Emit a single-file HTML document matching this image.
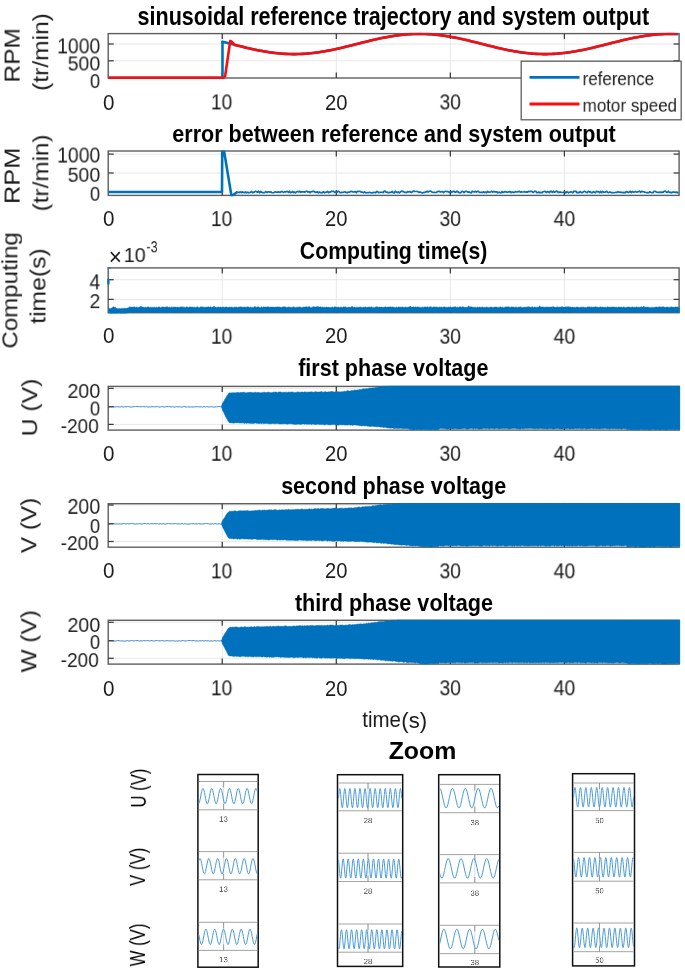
<!DOCTYPE html>
<html><head><meta charset="utf-8"><title>figure</title>
<style>
html,body{margin:0;padding:0;background:#fff;}
body{width:685px;height:971px;position:relative;overflow:hidden;font-family:"Liberation Sans",sans-serif;}
svg{position:absolute;left:0;top:0;}
.t{will-change:transform;position:absolute;left:0;top:0;white-space:pre;line-height:1;font-size:20px;transform-origin:0 0;}
</style></head><body>
<svg width="685" height="971" viewBox="0 0 685 971">
<line x1="222.25" y1="33.60" x2="222.25" y2="78.00" stroke="#e8e8e8" stroke-width="1" />
<line x1="336.30" y1="33.60" x2="336.30" y2="78.00" stroke="#e8e8e8" stroke-width="1" />
<line x1="450.35" y1="33.60" x2="450.35" y2="78.00" stroke="#e8e8e8" stroke-width="1" />
<line x1="564.40" y1="33.60" x2="564.40" y2="78.00" stroke="#e8e8e8" stroke-width="1" />
<line x1="108.20" y1="44.00" x2="679.10" y2="44.00" stroke="#e8e8e8" stroke-width="1" />
<line x1="108.20" y1="60.80" x2="679.10" y2="60.80" stroke="#e8e8e8" stroke-width="1" />
<clipPath id="c1"><rect x="107.2" y="32.800000000000004" width="572.9" height="46.8"/></clipPath>
<rect x="108.20" y="33.60" width="570.90" height="44.40" fill="none" stroke="#5e5e5e" stroke-width="1.4"/>
<line x1="222.25" y1="78.00" x2="222.25" y2="72.50" stroke="#3a3a3a" stroke-width="1.25" />
<line x1="222.25" y1="33.60" x2="222.25" y2="39.10" stroke="#3a3a3a" stroke-width="1.25" />
<line x1="336.30" y1="78.00" x2="336.30" y2="72.50" stroke="#3a3a3a" stroke-width="1.25" />
<line x1="336.30" y1="33.60" x2="336.30" y2="39.10" stroke="#3a3a3a" stroke-width="1.25" />
<line x1="450.35" y1="78.00" x2="450.35" y2="72.50" stroke="#3a3a3a" stroke-width="1.25" />
<line x1="450.35" y1="33.60" x2="450.35" y2="39.10" stroke="#3a3a3a" stroke-width="1.25" />
<line x1="564.40" y1="78.00" x2="564.40" y2="72.50" stroke="#3a3a3a" stroke-width="1.25" />
<line x1="564.40" y1="33.60" x2="564.40" y2="39.10" stroke="#3a3a3a" stroke-width="1.25" />
<line x1="108.20" y1="44.00" x2="113.70" y2="44.00" stroke="#3a3a3a" stroke-width="1.25" />
<line x1="679.10" y1="44.00" x2="673.60" y2="44.00" stroke="#3a3a3a" stroke-width="1.25" />
<line x1="108.20" y1="60.80" x2="113.70" y2="60.80" stroke="#3a3a3a" stroke-width="1.25" />
<line x1="679.10" y1="60.80" x2="673.60" y2="60.80" stroke="#3a3a3a" stroke-width="1.25" />
<path d="M108.20 77.70 L222.48 77.70 L222.48 41.71 L222.25 41.71 L224.53 42.28 L226.81 42.85 L229.09 43.42 L231.37 44.00 L233.65 44.58 L235.94 45.15 L238.22 45.72 L240.50 46.29 L242.78 46.85 L245.06 47.40 L247.34 47.94 L249.62 48.46 L251.90 48.97 L254.18 49.47 L256.46 49.94 L258.75 50.40 L261.03 50.84 L263.31 51.25 L265.59 51.64 L267.87 52.01 L270.15 52.35 L272.43 52.66 L274.71 52.94 L276.99 53.20 L279.27 53.42 L281.56 53.62 L283.84 53.78 L286.12 53.91 L288.40 54.01 L290.68 54.07 L292.96 54.11 L295.24 54.11 L297.52 54.07 L299.80 54.01 L302.08 53.91 L304.37 53.78 L306.65 53.62 L308.93 53.42 L311.21 53.20 L313.49 52.94 L315.77 52.66 L318.05 52.35 L320.33 52.01 L322.61 51.64 L324.89 51.25 L327.18 50.84 L329.46 50.40 L331.74 49.94 L334.02 49.47 L336.30 48.97 L338.58 48.46 L340.86 47.94 L343.14 47.40 L345.42 46.85 L347.70 46.29 L349.99 45.72 L352.27 45.15 L354.55 44.58 L356.83 44.00 L359.11 43.42 L361.39 42.85 L363.67 42.28 L365.95 41.71 L368.23 41.15 L370.51 40.60 L372.80 40.06 L375.08 39.54 L377.36 39.03 L379.64 38.53 L381.92 38.06 L384.20 37.60 L386.48 37.16 L388.76 36.75 L391.04 36.36 L393.32 35.99 L395.61 35.65 L397.89 35.34 L400.17 35.06 L402.45 34.80 L404.73 34.58 L407.01 34.38 L409.29 34.22 L411.57 34.09 L413.85 33.99 L416.13 33.93 L418.42 33.89 L420.70 33.89 L422.98 33.93 L425.26 33.99 L427.54 34.09 L429.82 34.22 L432.10 34.38 L434.38 34.58 L436.66 34.80 L438.94 35.06 L441.23 35.34 L443.51 35.65 L445.79 35.99 L448.07 36.36 L450.35 36.75 L452.63 37.16 L454.91 37.60 L457.19 38.06 L459.47 38.53 L461.75 39.03 L464.04 39.54 L466.32 40.06 L468.60 40.60 L470.88 41.15 L473.16 41.71 L475.44 42.28 L477.72 42.85 L480.00 43.42 L482.28 44.00 L484.56 44.58 L486.85 45.15 L489.13 45.72 L491.41 46.29 L493.69 46.85 L495.97 47.40 L498.25 47.94 L500.53 48.46 L502.81 48.97 L505.09 49.47 L507.37 49.94 L509.66 50.40 L511.94 50.84 L514.22 51.25 L516.50 51.64 L518.78 52.01 L521.06 52.35 L523.34 52.66 L525.62 52.94 L527.90 53.20 L530.18 53.42 L532.47 53.62 L534.75 53.78 L537.03 53.91 L539.31 54.01 L541.59 54.07 L543.87 54.11 L546.15 54.11 L548.43 54.07 L550.71 54.01 L553.00 53.91 L555.28 53.78 L557.56 53.62 L559.84 53.42 L562.12 53.20 L564.40 52.94 L566.68 52.66 L568.96 52.35 L571.24 52.01 L573.52 51.64 L575.81 51.25 L578.09 50.84 L580.37 50.40 L582.65 49.94 L584.93 49.47 L587.21 48.97 L589.49 48.46 L591.77 47.94 L594.05 47.40 L596.33 46.85 L598.62 46.29 L600.90 45.72 L603.18 45.15 L605.46 44.58 L607.74 44.00 L610.02 43.42 L612.30 42.85 L614.58 42.28 L616.86 41.71 L619.14 41.15 L621.43 40.60 L623.71 40.06 L625.99 39.54 L628.27 39.03 L630.55 38.53 L632.83 38.06 L635.11 37.60 L637.39 37.16 L639.67 36.75 L641.95 36.36 L644.24 35.99 L646.52 35.65 L648.80 35.34 L651.08 35.06 L653.36 34.80 L655.64 34.58 L657.92 34.38 L660.20 34.22 L662.48 34.09 L664.76 33.99 L667.05 33.93 L669.33 33.89 L671.61 33.89 L673.89 33.93 L676.17 33.99 L678.45 34.09" stroke="#0072bd" stroke-width="2.6" fill="none" stroke-linejoin="round" clip-path="url(#c1)"/>
<path d="M108.20 77.70 L223.39 77.70 L225.10 76.35 L230.23 40.97 L231.94 41.98 L234.80 44.87 L237.08 45.44 L239.36 46.01 L241.64 46.57 L243.92 47.12 L246.20 47.67 L248.48 48.20 L250.76 48.72 L253.04 49.22 L255.32 49.71 L257.61 50.17 L259.89 50.62 L262.17 51.05 L264.45 51.45 L266.73 51.83 L269.01 52.18 L271.29 52.51 L273.57 52.80 L275.85 53.07 L278.13 53.31 L280.42 53.52 L282.70 53.70 L284.98 53.85 L287.26 53.96 L289.54 54.04 L291.82 54.09 L294.10 54.11 L296.38 54.09 L298.66 54.04 L300.94 53.96 L303.23 53.85 L305.51 53.70 L307.79 53.52 L310.07 53.31 L312.35 53.07 L314.63 52.80 L316.91 52.51 L319.19 52.18 L321.47 51.83 L323.75 51.45 L326.04 51.05 L328.32 50.62 L330.60 50.17 L332.88 49.71 L335.16 49.22 L337.44 48.72 L339.72 48.20 L342.00 47.67 L344.28 47.12 L346.56 46.57 L348.85 46.01 L351.13 45.44 L353.41 44.87 L355.69 44.29 L357.97 43.71 L360.25 43.13 L362.53 42.56 L364.81 41.99 L367.09 41.43 L369.37 40.88 L371.66 40.33 L373.94 39.80 L376.22 39.28 L378.50 38.78 L380.78 38.29 L383.06 37.83 L385.34 37.38 L387.62 36.95 L389.90 36.55 L392.18 36.17 L394.47 35.82 L396.75 35.49 L399.03 35.20 L401.31 34.93 L403.59 34.69 L405.87 34.48 L408.15 34.30 L410.43 34.15 L412.71 34.04 L414.99 33.96 L417.28 33.91 L419.56 33.89 L421.84 33.91 L424.12 33.96 L426.40 34.04 L428.68 34.15 L430.96 34.30 L433.24 34.48 L435.52 34.69 L437.80 34.93 L440.09 35.20 L442.37 35.49 L444.65 35.82 L446.93 36.17 L449.21 36.55 L451.49 36.95 L453.77 37.38 L456.05 37.83 L458.33 38.29 L460.61 38.78 L462.90 39.28 L465.18 39.80 L467.46 40.33 L469.74 40.88 L472.02 41.43 L474.30 41.99 L476.58 42.56 L478.86 43.13 L481.14 43.71 L483.42 44.29 L485.71 44.87 L487.99 45.44 L490.27 46.01 L492.55 46.57 L494.83 47.12 L497.11 47.67 L499.39 48.20 L501.67 48.72 L503.95 49.22 L506.23 49.71 L508.52 50.17 L510.80 50.62 L513.08 51.05 L515.36 51.45 L517.64 51.83 L519.92 52.18 L522.20 52.51 L524.48 52.80 L526.76 53.07 L529.04 53.31 L531.33 53.52 L533.61 53.70 L535.89 53.85 L538.17 53.96 L540.45 54.04 L542.73 54.09 L545.01 54.11 L547.29 54.09 L549.57 54.04 L551.85 53.96 L554.14 53.85 L556.42 53.70 L558.70 53.52 L560.98 53.31 L563.26 53.07 L565.54 52.80 L567.82 52.51 L570.10 52.18 L572.38 51.83 L574.66 51.45 L576.95 51.05 L579.23 50.62 L581.51 50.17 L583.79 49.71 L586.07 49.22 L588.35 48.72 L590.63 48.20 L592.91 47.67 L595.19 47.12 L597.47 46.57 L599.76 46.01 L602.04 45.44 L604.32 44.87 L606.60 44.29 L608.88 43.71 L611.16 43.13 L613.44 42.56 L615.72 41.99 L618.00 41.43 L620.28 40.88 L622.57 40.33 L624.85 39.80 L627.13 39.28 L629.41 38.78 L631.69 38.29 L633.97 37.83 L636.25 37.38 L638.53 36.95 L640.81 36.55 L643.09 36.17 L645.38 35.82 L647.66 35.49 L649.94 35.20 L652.22 34.93 L654.50 34.69 L656.78 34.48 L659.06 34.30 L661.34 34.15 L663.62 34.04 L665.90 33.96 L668.19 33.91 L670.47 33.89 L672.75 33.91 L675.03 33.96 L677.31 34.04" stroke="#fc0c0c" stroke-width="2.6" fill="none" stroke-linejoin="round" clip-path="url(#c1)"/>
<line x1="222.25" y1="151.00" x2="222.25" y2="195.40" stroke="#e8e8e8" stroke-width="1" />
<line x1="336.30" y1="151.00" x2="336.30" y2="195.40" stroke="#e8e8e8" stroke-width="1" />
<line x1="450.35" y1="151.00" x2="450.35" y2="195.40" stroke="#e8e8e8" stroke-width="1" />
<line x1="564.40" y1="151.00" x2="564.40" y2="195.40" stroke="#e8e8e8" stroke-width="1" />
<line x1="108.20" y1="154.10" x2="679.10" y2="154.10" stroke="#e8e8e8" stroke-width="1" />
<line x1="108.20" y1="173.00" x2="679.10" y2="173.00" stroke="#e8e8e8" stroke-width="1" />
<clipPath id="c2"><rect x="107.2" y="150.4" width="572.9" height="46.00000000000001"/></clipPath>
<rect x="108.20" y="151.00" width="570.90" height="44.40" fill="none" stroke="#5e5e5e" stroke-width="1.4"/>
<line x1="222.25" y1="195.40" x2="222.25" y2="189.90" stroke="#3a3a3a" stroke-width="1.25" />
<line x1="222.25" y1="151.00" x2="222.25" y2="156.50" stroke="#3a3a3a" stroke-width="1.25" />
<line x1="336.30" y1="195.40" x2="336.30" y2="189.90" stroke="#3a3a3a" stroke-width="1.25" />
<line x1="336.30" y1="151.00" x2="336.30" y2="156.50" stroke="#3a3a3a" stroke-width="1.25" />
<line x1="450.35" y1="195.40" x2="450.35" y2="189.90" stroke="#3a3a3a" stroke-width="1.25" />
<line x1="450.35" y1="151.00" x2="450.35" y2="156.50" stroke="#3a3a3a" stroke-width="1.25" />
<line x1="564.40" y1="195.40" x2="564.40" y2="189.90" stroke="#3a3a3a" stroke-width="1.25" />
<line x1="564.40" y1="151.00" x2="564.40" y2="156.50" stroke="#3a3a3a" stroke-width="1.25" />
<line x1="108.20" y1="154.10" x2="113.70" y2="154.10" stroke="#3a3a3a" stroke-width="1.25" />
<line x1="679.10" y1="154.10" x2="673.60" y2="154.10" stroke="#3a3a3a" stroke-width="1.25" />
<line x1="108.20" y1="173.00" x2="113.70" y2="173.00" stroke="#3a3a3a" stroke-width="1.25" />
<line x1="679.10" y1="173.00" x2="673.60" y2="173.00" stroke="#3a3a3a" stroke-width="1.25" />
<path d="M108.20 192.00 L222.02 192.00 L222.25 148.41 L223.62 148.41 L231.37 195.41 L233.08 195.03 L237.65 191.81" stroke="#0072bd" stroke-width="2.6" fill="none" stroke-linejoin="round" clip-path="url(#c2)"/>
<path d="M237.08 192.00 L238.22 192.29 L239.24 192.58 L240.27 191.75 L241.30 192.71 L242.32 191.94 L243.35 192.22 L244.38 192.74 L245.40 191.99 L246.43 192.77 L247.46 192.11 L248.48 192.72 L249.51 192.68 L250.53 192.13 L251.56 191.45 L252.59 192.63 L253.61 192.46 L254.64 191.79 L255.67 191.25 L256.69 191.87 L257.72 192.17 L258.75 191.21 L259.77 192.76 L260.80 191.40 L261.83 192.35 L262.85 192.59 L263.88 192.64 L264.90 192.32 L265.93 191.47 L266.96 192.53 L267.98 191.86 L269.01 191.77 L270.04 192.21 L271.06 191.92 L272.09 192.73 L273.12 192.73 L274.14 192.49 L275.17 191.70 L276.20 192.12 L277.22 192.31 L278.25 191.86 L279.27 192.08 L280.30 192.33 L281.33 191.51 L282.35 191.67 L283.38 192.43 L284.41 191.88 L285.43 191.96 L286.46 191.37 L287.49 191.62 L288.51 192.35 L289.54 191.20 L290.57 192.64 L291.59 192.14 L292.62 191.57 L293.65 192.58 L294.67 192.02 L295.70 192.77 L296.72 191.72 L297.75 191.56 L298.78 191.88 L299.80 191.37 L300.83 192.31 L301.86 191.67 L302.88 191.84 L303.91 191.87 L304.94 192.07 L305.96 191.43 L306.99 191.26 L308.02 192.04 L309.04 191.73 L310.07 192.73 L311.09 191.66 L312.12 191.75 L313.15 191.18 L314.17 191.46 L315.20 192.36 L316.23 192.19 L317.25 191.72 L318.28 192.80 L319.31 192.06 L320.33 192.55 L321.36 192.64 L322.39 192.74 L323.41 191.55 L324.44 192.62 L325.47 192.42 L326.49 192.18 L327.52 191.38 L328.54 192.70 L329.57 192.08 L330.60 191.92 L331.62 191.36 L332.65 191.47 L333.68 191.39 L334.70 192.37 L335.73 192.14 L336.76 192.24 L337.78 191.36 L338.81 191.24 L339.84 192.58 L340.86 192.54 L341.89 192.45 L342.91 192.44 L343.94 192.03 L344.97 191.85 L345.99 192.40 L347.02 192.83 L348.05 192.14 L349.07 192.22 L350.10 191.89 L351.13 191.24 L352.15 191.68 L353.18 191.97 L354.21 191.80 L355.23 191.71 L356.26 192.74 L357.29 191.33 L358.31 191.53 L359.34 191.38 L360.36 191.50 L361.39 192.18 L362.42 192.17 L363.44 192.66 L364.47 191.78 L365.50 192.73 L366.52 192.72 L367.55 192.49 L368.58 192.56 L369.60 192.27 L370.63 192.75 L371.66 192.83 L372.68 192.58 L373.71 192.66 L374.73 192.23 L375.76 192.79 L376.79 191.38 L377.81 191.81 L378.84 192.59 L379.87 192.41 L380.89 192.25 L381.92 192.23 L382.95 192.63 L383.97 191.42 L385.00 191.18 L386.03 192.06 L387.05 192.03 L388.08 192.69 L389.11 192.66 L390.13 192.26 L391.16 192.39 L392.18 191.45 L393.21 192.56 L394.24 192.80 L395.26 191.25 L396.29 191.95 L397.32 192.59 L398.34 191.93 L399.37 192.79 L400.40 191.95 L401.42 191.20 L402.45 191.39 L403.48 191.67 L404.50 192.40 L405.53 192.22 L406.55 192.56 L407.58 191.55 L408.61 191.95 L409.63 191.53 L410.66 192.28 L411.69 192.46 L412.71 191.48 L413.74 191.19 L414.77 191.41 L415.79 191.49 L416.82 191.47 L417.85 191.60 L418.87 192.46 L419.90 191.97 L420.93 192.24 L421.95 192.79 L422.98 192.79 L424.00 192.37 L425.03 192.40 L426.06 191.68 L427.08 191.24 L428.11 192.09 L429.14 191.27 L430.16 191.19 L431.19 191.24 L432.22 192.23 L433.24 192.47 L434.27 192.46 L435.30 192.51 L436.32 192.49 L437.35 191.79 L438.37 191.33 L439.40 191.43 L440.43 192.03 L441.45 191.74 L442.48 191.50 L443.51 192.69 L444.53 191.73 L445.56 191.32 L446.59 191.53 L447.61 191.58 L448.64 192.04 L449.67 192.54 L450.69 191.52 L451.72 192.28 L452.75 191.50 L453.77 191.21 L454.80 192.17 L455.82 192.16 L456.85 191.25 L457.88 191.63 L458.90 192.55 L459.93 192.62 L460.96 192.58 L461.98 191.32 L463.01 191.49 L464.04 192.59 L465.06 191.46 L466.09 191.20 L467.12 191.74 L468.14 192.25 L469.17 191.92 L470.19 192.62 L471.22 192.81 L472.25 191.21 L473.27 191.75 L474.30 191.96 L475.33 191.28 L476.35 192.11 L477.38 191.38 L478.41 191.46 L479.43 192.48 L480.46 192.41 L481.49 192.35 L482.51 192.43 L483.54 191.86 L484.57 192.40 L485.59 192.14 L486.62 192.62 L487.64 191.32 L488.67 192.24 L489.70 192.07 L490.72 191.86 L491.75 191.33 L492.78 192.13 L493.80 191.30 L494.83 192.00 L495.86 191.95 L496.88 191.96 L497.91 192.80 L498.94 192.10 L499.96 192.53 L500.99 192.83 L502.01 191.50 L503.04 192.55 L504.07 192.04 L505.09 191.62 L506.12 191.91 L507.15 192.29 L508.17 191.97 L509.20 191.91 L510.23 191.53 L511.25 192.66 L512.28 191.90 L513.31 192.42 L514.33 192.37 L515.36 191.55 L516.38 191.99 L517.41 191.90 L518.44 191.57 L519.46 191.31 L520.49 192.09 L521.52 191.81 L522.54 191.99 L523.57 191.98 L524.60 191.68 L525.62 192.08 L526.65 191.94 L527.68 192.04 L528.70 191.26 L529.73 191.67 L530.76 191.37 L531.78 191.26 L532.81 192.40 L533.83 191.90 L534.86 191.26 L535.89 191.43 L536.91 192.61 L537.94 192.63 L538.97 192.10 L539.99 192.71 L541.02 192.43 L542.05 192.71 L543.07 191.72 L544.10 191.53 L545.13 191.34 L546.15 192.58 L547.18 191.64 L548.20 191.73 L549.23 192.60 L550.26 191.36 L551.28 191.22 L552.31 192.47 L553.34 191.25 L554.36 192.17 L555.39 192.02 L556.42 191.18 L557.44 191.45 L558.47 192.56 L559.50 192.11 L560.52 191.97 L561.55 192.27 L562.58 192.51 L563.60 192.30 L564.63 191.63 L565.65 192.80 L566.68 191.91 L567.71 192.10 L568.73 192.80 L569.76 192.28 L570.79 191.79 L571.81 191.98 L572.84 192.73 L573.87 191.19 L574.89 191.52 L575.92 191.21 L576.95 192.66 L577.97 192.39 L579.00 192.77 L580.02 191.53 L581.05 192.38 L582.08 192.62 L583.10 192.13 L584.13 191.31 L585.16 191.47 L586.18 192.40 L587.21 192.58 L588.24 191.30 L589.26 191.88 L590.29 191.67 L591.32 192.68 L592.34 192.74 L593.37 191.69 L594.40 192.12 L595.42 192.71 L596.45 191.27 L597.47 191.78 L598.50 191.50 L599.53 192.69 L600.55 191.41 L601.58 192.72 L602.61 191.40 L603.63 192.08 L604.66 192.27 L605.69 191.91 L606.71 191.29 L607.74 192.39 L608.77 192.62 L609.79 191.96 L610.82 192.44 L611.84 192.65 L612.87 192.56 L613.90 192.75 L614.92 192.50 L615.95 192.31 L616.98 192.33 L618.00 191.57 L619.03 192.35 L620.06 192.00 L621.08 192.54 L622.11 192.26 L623.14 192.80 L624.16 192.42 L625.19 192.81 L626.22 191.61 L627.24 191.91 L628.27 192.52 L629.29 192.04 L630.32 191.28 L631.35 192.66 L632.37 191.47 L633.40 192.11 L634.43 192.01 L635.45 191.44 L636.48 192.18 L637.51 191.99 L638.53 191.69 L639.56 191.20 L640.59 192.26 L641.61 191.45 L642.64 191.66 L643.66 191.77 L644.69 192.16 L645.72 192.25 L646.74 192.74 L647.77 192.62 L648.80 192.72 L649.82 191.60 L650.85 192.41 L651.88 192.56 L652.90 192.69 L653.93 191.43 L654.96 191.38 L655.98 191.72 L657.01 192.36 L658.04 192.43 L659.06 192.35 L660.09 192.07 L661.11 192.57 L662.14 192.09 L663.17 192.39 L664.19 191.23 L665.22 191.21 L666.25 191.92 L667.27 192.43 L668.30 191.22 L669.33 192.32 L670.35 192.24 L671.38 192.83 L672.41 192.20 L673.43 192.04 L674.46 192.00 L675.48 192.50 L676.51 191.99 L677.54 192.83 L678.56 192.39" stroke="#0072bd" stroke-width="1.7" fill="none" stroke-linejoin="round" clip-path="url(#c2)"/>
<line x1="222.25" y1="267.90" x2="222.25" y2="312.70" stroke="#e8e8e8" stroke-width="1" />
<line x1="336.30" y1="267.90" x2="336.30" y2="312.70" stroke="#e8e8e8" stroke-width="1" />
<line x1="450.35" y1="267.90" x2="450.35" y2="312.70" stroke="#e8e8e8" stroke-width="1" />
<line x1="564.40" y1="267.90" x2="564.40" y2="312.70" stroke="#e8e8e8" stroke-width="1" />
<line x1="108.20" y1="279.70" x2="679.10" y2="279.70" stroke="#e8e8e8" stroke-width="1" />
<line x1="108.20" y1="299.40" x2="679.10" y2="299.40" stroke="#e8e8e8" stroke-width="1" />
<rect x="108.20" y="267.90" width="570.90" height="44.80" fill="none" stroke="#5e5e5e" stroke-width="1.4"/>
<line x1="222.25" y1="312.70" x2="222.25" y2="307.20" stroke="#3a3a3a" stroke-width="1.25" />
<line x1="222.25" y1="267.90" x2="222.25" y2="273.40" stroke="#3a3a3a" stroke-width="1.25" />
<line x1="336.30" y1="312.70" x2="336.30" y2="307.20" stroke="#3a3a3a" stroke-width="1.25" />
<line x1="336.30" y1="267.90" x2="336.30" y2="273.40" stroke="#3a3a3a" stroke-width="1.25" />
<line x1="450.35" y1="312.70" x2="450.35" y2="307.20" stroke="#3a3a3a" stroke-width="1.25" />
<line x1="450.35" y1="267.90" x2="450.35" y2="273.40" stroke="#3a3a3a" stroke-width="1.25" />
<line x1="564.40" y1="312.70" x2="564.40" y2="307.20" stroke="#3a3a3a" stroke-width="1.25" />
<line x1="564.40" y1="267.90" x2="564.40" y2="273.40" stroke="#3a3a3a" stroke-width="1.25" />
<line x1="108.20" y1="279.70" x2="113.70" y2="279.70" stroke="#3a3a3a" stroke-width="1.25" />
<line x1="679.10" y1="279.70" x2="673.60" y2="279.70" stroke="#3a3a3a" stroke-width="1.25" />
<line x1="108.20" y1="299.40" x2="113.70" y2="299.40" stroke="#3a3a3a" stroke-width="1.25" />
<line x1="679.10" y1="299.40" x2="673.60" y2="299.40" stroke="#3a3a3a" stroke-width="1.25" />
<clipPath id="c3"><rect x="107.0" y="267.29999999999995" width="573.5" height="45.80000000000001"/></clipPath>
<path d="M108.20 308.21 L109.11 308.17 L110.02 308.56 L110.94 308.61 L111.85 307.72 L112.76 307.15 L113.67 306.68 L114.59 307.29 L115.50 307.35 L116.41 308.23 L117.32 308.56 L118.24 308.64 L119.15 308.24 L120.06 308.74 L120.97 308.59 L121.89 308.15 L122.80 308.50 L123.71 308.20 L124.62 308.20 L125.54 308.29 L126.45 308.30 L127.36 308.11 L128.27 307.76 L129.19 307.17 L130.10 306.71 L131.01 307.22 L131.92 306.95 L132.83 307.08 L133.75 306.89 L134.66 306.76 L135.57 307.43 L136.48 306.90 L137.40 307.16 L138.31 307.42 L139.22 307.11 L140.13 306.91 L141.05 306.07 L141.96 306.96 L142.87 306.97 L143.78 307.28 L144.70 307.40 L145.61 306.95 L146.52 307.45 L147.43 307.05 L148.35 306.82 L149.26 307.40 L150.17 307.11 L151.08 307.42 L152.00 307.19 L152.91 307.13 L153.82 307.26 L154.73 307.20 L155.64 307.40 L156.56 306.99 L157.47 307.43 L158.38 306.96 L159.29 306.87 L160.21 307.38 L161.12 307.38 L162.03 306.85 L162.94 306.99 L163.86 306.93 L164.77 307.27 L165.68 307.12 L166.59 306.79 L167.51 306.84 L168.42 307.35 L169.33 306.92 L170.24 307.42 L171.16 306.77 L172.07 307.38 L172.98 306.75 L173.89 307.33 L174.81 306.92 L175.72 307.12 L176.63 307.26 L177.54 307.07 L178.45 307.30 L179.37 307.20 L180.28 306.93 L181.19 306.83 L182.10 307.16 L183.02 306.59 L183.93 307.42 L184.84 307.08 L185.75 307.42 L186.67 306.77 L187.58 307.04 L188.49 307.40 L189.40 306.99 L190.32 306.89 L191.23 307.10 L192.14 306.97 L193.05 306.91 L193.97 307.42 L194.88 306.91 L195.79 307.41 L196.70 306.90 L197.62 306.79 L198.53 307.38 L199.44 307.45 L200.35 306.88 L201.26 306.77 L202.18 307.01 L203.09 306.75 L204.00 307.42 L204.91 306.90 L205.83 307.33 L206.74 307.08 L207.65 306.89 L208.56 306.77 L209.48 307.29 L210.39 306.79 L211.30 307.27 L212.21 306.94 L213.13 306.93 L214.04 306.09 L214.95 307.19 L215.86 306.91 L216.78 307.42 L217.69 307.05 L218.60 306.88 L219.51 307.33 L220.43 306.98 L221.34 307.30 L222.25 307.28 L223.16 306.77 L224.07 307.44 L224.99 306.94 L225.90 307.10 L226.81 306.91 L227.72 307.22 L228.64 307.22 L229.55 306.96 L230.46 307.27 L231.37 306.92 L232.29 307.15 L233.20 307.44 L234.11 307.32 L235.02 306.82 L235.94 307.34 L236.85 306.96 L237.76 307.43 L238.67 307.01 L239.59 306.93 L240.50 306.82 L241.41 306.90 L242.32 306.89 L243.24 307.21 L244.15 306.98 L245.06 306.97 L245.97 307.13 L246.88 307.03 L247.80 306.81 L248.71 307.04 L249.62 307.42 L250.53 307.00 L251.45 307.45 L252.36 307.26 L253.27 307.38 L254.18 307.03 L255.10 306.13 L256.01 307.39 L256.92 307.01 L257.83 306.95 L258.75 306.83 L259.66 307.43 L260.57 307.41 L261.48 306.79 L262.40 307.38 L263.31 306.86 L264.22 307.03 L265.13 306.88 L266.05 307.11 L266.96 306.92 L267.87 306.78 L268.78 306.78 L269.69 307.17 L270.61 306.96 L271.52 307.05 L272.43 307.06 L273.34 307.09 L274.26 307.30 L275.17 307.08 L276.08 307.05 L276.99 307.11 L277.91 306.81 L278.82 307.11 L279.73 307.01 L280.64 307.35 L281.56 307.32 L282.47 307.09 L283.38 306.87 L284.29 306.80 L285.21 306.86 L286.12 307.32 L287.03 307.39 L287.94 307.10 L288.86 306.88 L289.77 307.23 L290.68 307.30 L291.59 307.20 L292.50 307.14 L293.42 306.82 L294.33 307.03 L295.24 307.44 L296.15 307.29 L297.07 307.27 L297.98 306.93 L298.89 307.16 L299.80 306.75 L300.72 307.18 L301.63 307.38 L302.54 307.21 L303.45 307.00 L304.37 306.91 L305.28 306.89 L306.19 306.84 L307.10 306.85 L308.02 307.36 L308.93 306.15 L309.84 307.00 L310.75 307.41 L311.67 307.38 L312.58 307.03 L313.49 306.56 L314.40 306.85 L315.31 307.10 L316.23 306.87 L317.14 306.78 L318.05 306.34 L318.96 307.08 L319.88 306.91 L320.79 306.78 L321.70 307.24 L322.61 306.94 L323.53 307.30 L324.44 307.20 L325.35 307.37 L326.26 306.92 L327.18 307.27 L328.09 306.98 L329.00 307.19 L329.91 307.44 L330.83 307.24 L331.74 307.26 L332.65 306.90 L333.56 307.39 L334.48 306.82 L335.39 306.85 L336.30 307.23 L337.21 307.27 L338.12 307.00 L339.04 307.37 L339.95 307.39 L340.86 306.89 L341.77 307.34 L342.69 307.33 L343.60 306.82 L344.51 306.89 L345.42 306.76 L346.34 307.25 L347.25 307.42 L348.16 307.18 L349.07 307.06 L349.99 307.24 L350.90 307.35 L351.81 306.35 L352.72 306.74 L353.64 307.31 L354.55 306.99 L355.46 307.41 L356.37 307.24 L357.29 307.20 L358.20 307.24 L359.11 307.00 L360.02 307.37 L360.93 306.77 L361.85 307.38 L362.76 307.37 L363.67 307.12 L364.58 307.20 L365.50 306.86 L366.41 307.27 L367.32 307.29 L368.23 307.07 L369.15 306.88 L370.06 307.34 L370.97 306.92 L371.88 306.86 L372.80 307.43 L373.71 307.42 L374.62 307.44 L375.53 307.05 L376.45 306.82 L377.36 306.77 L378.27 307.24 L379.18 307.07 L380.10 307.03 L381.01 307.05 L381.92 307.04 L382.83 307.37 L383.74 307.35 L384.66 307.07 L385.57 306.82 L386.48 307.25 L387.39 307.05 L388.31 307.04 L389.22 306.88 L390.13 307.02 L391.04 306.78 L391.96 307.30 L392.87 306.82 L393.78 307.25 L394.69 307.33 L395.61 307.41 L396.52 307.02 L397.43 307.44 L398.34 306.94 L399.26 307.04 L400.17 307.00 L401.08 307.27 L401.99 306.90 L402.91 306.90 L403.82 307.32 L404.73 307.14 L405.64 307.00 L406.55 307.32 L407.47 307.13 L408.38 307.00 L409.29 307.01 L410.20 306.05 L411.12 306.92 L412.03 307.05 L412.94 307.00 L413.85 306.79 L414.77 307.30 L415.68 306.79 L416.59 307.21 L417.50 306.85 L418.42 306.99 L419.33 307.30 L420.24 307.18 L421.15 307.38 L422.07 306.89 L422.98 307.27 L423.89 307.14 L424.80 306.85 L425.72 307.08 L426.63 307.10 L427.54 306.75 L428.45 307.14 L429.36 307.01 L430.28 306.80 L431.19 306.77 L432.10 307.40 L433.01 307.11 L433.93 306.77 L434.84 306.99 L435.75 307.08 L436.66 306.90 L437.58 307.14 L438.49 307.33 L439.40 306.94 L440.31 307.21 L441.23 306.97 L442.14 307.19 L443.05 307.26 L443.96 306.78 L444.88 306.88 L445.79 307.21 L446.70 307.18 L447.61 307.24 L448.53 306.90 L449.44 307.28 L450.35 306.78 L451.26 307.21 L452.17 307.30 L453.09 306.96 L454.00 307.05 L454.91 306.79 L455.82 306.83 L456.74 307.39 L457.65 307.02 L458.56 307.44 L459.47 306.82 L460.39 306.86 L461.30 307.23 L462.21 306.81 L463.12 306.76 L464.04 307.26 L464.95 307.29 L465.86 307.26 L466.77 307.25 L467.69 306.93 L468.60 305.97 L469.51 306.81 L470.42 306.87 L471.34 306.79 L472.25 307.06 L473.16 307.31 L474.07 307.19 L474.98 307.30 L475.90 307.15 L476.81 307.43 L477.72 306.98 L478.63 307.33 L479.55 307.05 L480.46 307.23 L481.37 307.32 L482.28 306.93 L483.20 307.32 L484.11 307.33 L485.02 307.15 L485.93 307.31 L486.85 306.99 L487.76 307.31 L488.67 307.40 L489.58 307.22 L490.50 306.93 L491.41 307.07 L492.32 307.29 L493.23 307.38 L494.15 307.08 L495.06 306.88 L495.97 307.00 L496.88 307.11 L497.79 307.45 L498.71 307.19 L499.62 307.17 L500.53 306.76 L501.44 307.36 L502.36 306.93 L503.27 307.41 L504.18 307.42 L505.09 306.89 L506.01 306.79 L506.92 307.07 L507.83 306.79 L508.74 306.83 L509.66 307.15 L510.57 307.22 L511.48 306.86 L512.39 306.91 L513.31 307.00 L514.22 307.34 L515.13 307.25 L516.04 306.79 L516.96 307.41 L517.87 307.16 L518.78 306.98 L519.69 307.09 L520.60 306.85 L521.52 307.25 L522.43 307.40 L523.34 307.36 L524.25 307.06 L525.17 307.34 L526.08 306.99 L526.99 307.19 L527.90 306.79 L528.82 306.85 L529.73 307.04 L530.64 307.34 L531.55 307.09 L532.47 306.83 L533.38 307.38 L534.29 307.08 L535.20 306.89 L536.12 307.45 L537.03 306.95 L537.94 307.26 L538.85 306.76 L539.77 305.95 L540.68 306.88 L541.59 306.90 L542.50 306.88 L543.41 306.89 L544.33 307.18 L545.24 306.89 L546.15 307.32 L547.06 306.80 L547.98 307.26 L548.89 306.98 L549.80 307.10 L550.71 307.08 L551.63 306.88 L552.54 306.86 L553.45 306.75 L554.36 307.11 L555.28 307.32 L556.19 307.25 L557.10 306.79 L558.01 307.10 L558.93 307.13 L559.84 306.91 L560.75 306.93 L561.66 306.82 L562.58 306.76 L563.49 307.12 L564.40 307.36 L565.31 306.84 L566.22 306.95 L567.14 306.85 L568.05 306.85 L568.96 306.87 L569.87 307.02 L570.79 307.12 L571.70 307.29 L572.61 306.98 L573.52 307.31 L574.44 307.34 L575.35 307.42 L576.26 307.05 L577.17 307.12 L578.09 307.10 L579.00 307.43 L579.91 307.19 L580.82 307.37 L581.74 306.94 L582.65 307.13 L583.56 306.93 L584.47 307.42 L585.39 307.20 L586.30 307.42 L587.21 307.08 L588.12 306.84 L589.03 307.03 L589.95 306.81 L590.86 307.18 L591.77 306.89 L592.68 307.13 L593.60 306.97 L594.51 307.11 L595.42 306.76 L596.33 306.92 L597.25 306.95 L598.16 307.29 L599.07 307.36 L599.98 307.02 L600.90 306.83 L601.81 307.27 L602.72 307.00 L603.63 307.34 L604.55 307.27 L605.46 307.08 L606.37 307.39 L607.28 306.75 L608.20 307.10 L609.11 307.04 L610.02 307.18 L610.93 307.07 L611.84 307.02 L612.76 306.98 L613.67 307.10 L614.58 306.96 L615.49 307.16 L616.41 306.98 L617.32 307.42 L618.23 306.96 L619.14 307.10 L620.06 307.13 L620.97 307.11 L621.88 307.00 L622.79 307.41 L623.71 306.82 L624.62 307.14 L625.53 307.43 L626.44 307.19 L627.36 307.12 L628.27 306.97 L629.18 307.11 L630.09 307.23 L631.01 307.37 L631.92 306.95 L632.83 306.88 L633.74 307.17 L634.65 307.20 L635.57 307.30 L636.48 306.75 L637.39 307.16 L638.30 307.10 L639.22 307.20 L640.13 307.15 L641.04 306.86 L641.95 306.82 L642.87 307.33 L643.78 305.93 L644.69 307.25 L645.60 306.94 L646.52 307.16 L647.43 307.02 L648.34 307.16 L649.25 307.18 L650.17 307.40 L651.08 307.38 L651.99 307.17 L652.90 307.41 L653.82 307.25 L654.73 307.36 L655.64 306.92 L656.55 306.88 L657.46 307.14 L658.38 307.02 L659.29 306.84 L660.20 306.92 L661.11 306.92 L662.03 306.99 L662.94 306.81 L663.85 306.84 L664.76 307.31 L665.68 307.26 L666.59 306.90 L667.50 306.91 L668.41 307.24 L669.33 307.16 L670.24 307.18 L671.15 306.84 L672.06 306.94 L672.98 307.21 L673.89 307.02 L674.80 307.35 L675.71 306.83 L676.63 307.10 L677.54 306.97 L678.45 307.25 L679.36 307.39 L679.36 312.61 L678.45 312.47 L677.54 312.39 L676.63 312.37 L675.71 312.46 L674.80 312.55 L673.89 312.40 L672.98 312.44 L672.06 312.47 L671.15 312.51 L670.24 312.61 L669.33 312.42 L668.41 312.62 L667.50 312.39 L666.59 312.50 L665.68 312.64 L664.76 312.46 L663.85 312.60 L662.94 312.60 L662.03 312.56 L661.11 312.55 L660.20 312.44 L659.29 312.46 L658.38 312.37 L657.46 312.51 L656.55 312.44 L655.64 312.46 L654.73 312.59 L653.82 312.44 L652.90 312.47 L651.99 312.50 L651.08 312.44 L650.17 312.44 L649.25 312.36 L648.34 312.48 L647.43 312.62 L646.52 312.48 L645.60 312.62 L644.69 312.40 L643.78 312.45 L642.87 312.59 L641.95 312.51 L641.04 312.38 L640.13 312.39 L639.22 312.65 L638.30 312.43 L637.39 312.41 L636.48 312.60 L635.57 312.56 L634.65 312.47 L633.74 312.65 L632.83 312.54 L631.92 312.50 L631.01 312.40 L630.09 312.65 L629.18 312.62 L628.27 312.60 L627.36 312.40 L626.44 312.45 L625.53 312.48 L624.62 312.61 L623.71 312.47 L622.79 312.51 L621.88 312.46 L620.97 312.47 L620.06 312.51 L619.14 312.58 L618.23 312.52 L617.32 312.48 L616.41 312.60 L615.49 312.63 L614.58 312.52 L613.67 312.41 L612.76 312.60 L611.84 312.47 L610.93 312.44 L610.02 312.49 L609.11 312.61 L608.20 312.52 L607.28 312.53 L606.37 312.61 L605.46 312.56 L604.55 312.58 L603.63 312.51 L602.72 312.53 L601.81 312.45 L600.90 312.64 L599.98 312.57 L599.07 312.37 L598.16 312.37 L597.25 312.44 L596.33 312.50 L595.42 312.61 L594.51 312.53 L593.60 312.42 L592.68 312.49 L591.77 312.49 L590.86 312.55 L589.95 312.60 L589.03 312.42 L588.12 312.44 L587.21 312.39 L586.30 312.43 L585.39 312.53 L584.47 312.44 L583.56 312.48 L582.65 312.54 L581.74 312.43 L580.82 312.54 L579.91 312.62 L579.00 312.63 L578.09 312.39 L577.17 312.48 L576.26 312.46 L575.35 312.42 L574.44 312.51 L573.52 312.59 L572.61 312.64 L571.70 312.42 L570.79 312.63 L569.87 312.60 L568.96 312.63 L568.05 312.57 L567.14 312.61 L566.22 312.47 L565.31 312.50 L564.40 312.36 L563.49 312.38 L562.58 312.52 L561.66 312.41 L560.75 312.36 L559.84 312.38 L558.93 312.64 L558.01 312.51 L557.10 312.64 L556.19 312.58 L555.28 312.45 L554.36 312.56 L553.45 312.48 L552.54 312.53 L551.63 312.46 L550.71 312.43 L549.80 312.62 L548.89 312.61 L547.98 312.59 L547.06 312.47 L546.15 312.41 L545.24 312.56 L544.33 312.43 L543.41 312.38 L542.50 312.56 L541.59 312.39 L540.68 312.62 L539.77 312.51 L538.85 312.45 L537.94 312.64 L537.03 312.37 L536.12 312.38 L535.20 312.65 L534.29 312.43 L533.38 312.41 L532.47 312.37 L531.55 312.62 L530.64 312.40 L529.73 312.43 L528.82 312.43 L527.90 312.52 L526.99 312.42 L526.08 312.49 L525.17 312.49 L524.25 312.63 L523.34 312.39 L522.43 312.63 L521.52 312.36 L520.60 312.35 L519.69 312.42 L518.78 312.39 L517.87 312.38 L516.96 312.44 L516.04 312.58 L515.13 312.65 L514.22 312.59 L513.31 312.62 L512.39 312.43 L511.48 312.65 L510.57 312.48 L509.66 312.64 L508.74 312.43 L507.83 312.47 L506.92 312.62 L506.01 312.61 L505.09 312.38 L504.18 312.36 L503.27 312.60 L502.36 312.48 L501.44 312.52 L500.53 312.65 L499.62 312.51 L498.71 312.40 L497.79 312.38 L496.88 312.36 L495.97 312.47 L495.06 312.56 L494.15 312.41 L493.23 312.51 L492.32 312.52 L491.41 312.59 L490.50 312.59 L489.58 312.41 L488.67 312.53 L487.76 312.58 L486.85 312.52 L485.93 312.62 L485.02 312.61 L484.11 312.61 L483.20 312.36 L482.28 312.53 L481.37 312.35 L480.46 312.62 L479.55 312.46 L478.63 312.44 L477.72 312.64 L476.81 312.60 L475.90 312.37 L474.98 312.59 L474.07 312.47 L473.16 312.54 L472.25 312.39 L471.34 312.52 L470.42 312.50 L469.51 312.57 L468.60 312.60 L467.69 312.57 L466.77 312.63 L465.86 312.54 L464.95 312.61 L464.04 312.37 L463.12 312.42 L462.21 312.39 L461.30 312.64 L460.39 312.35 L459.47 312.41 L458.56 312.47 L457.65 312.63 L456.74 312.35 L455.82 312.52 L454.91 312.36 L454.00 312.63 L453.09 312.45 L452.17 312.43 L451.26 312.60 L450.35 312.62 L449.44 312.40 L448.53 312.49 L447.61 312.55 L446.70 312.54 L445.79 312.62 L444.88 312.53 L443.96 312.35 L443.05 312.51 L442.14 312.36 L441.23 312.53 L440.31 312.45 L439.40 312.64 L438.49 312.50 L437.58 312.44 L436.66 312.48 L435.75 312.58 L434.84 312.46 L433.93 312.54 L433.01 312.62 L432.10 312.64 L431.19 312.55 L430.28 312.54 L429.36 312.64 L428.45 312.60 L427.54 312.49 L426.63 312.61 L425.72 312.50 L424.80 312.37 L423.89 312.42 L422.98 312.61 L422.07 312.51 L421.15 312.60 L420.24 312.55 L419.33 312.62 L418.42 312.62 L417.50 312.58 L416.59 312.38 L415.68 312.64 L414.77 312.60 L413.85 312.62 L412.94 312.61 L412.03 312.55 L411.12 312.49 L410.20 312.43 L409.29 312.48 L408.38 312.43 L407.47 312.60 L406.55 312.44 L405.64 312.60 L404.73 312.64 L403.82 312.49 L402.91 312.58 L401.99 312.47 L401.08 312.51 L400.17 312.42 L399.26 312.56 L398.34 312.35 L397.43 312.37 L396.52 312.39 L395.61 312.56 L394.69 312.47 L393.78 312.54 L392.87 312.51 L391.96 312.51 L391.04 312.40 L390.13 312.64 L389.22 312.58 L388.31 312.63 L387.39 312.54 L386.48 312.43 L385.57 312.58 L384.66 312.54 L383.74 312.54 L382.83 312.56 L381.92 312.57 L381.01 312.57 L380.10 312.62 L379.18 312.53 L378.27 312.54 L377.36 312.59 L376.45 312.47 L375.53 312.54 L374.62 312.57 L373.71 312.47 L372.80 312.38 L371.88 312.41 L370.97 312.51 L370.06 312.40 L369.15 312.56 L368.23 312.42 L367.32 312.39 L366.41 312.48 L365.50 312.55 L364.58 312.45 L363.67 312.58 L362.76 312.49 L361.85 312.46 L360.93 312.43 L360.02 312.62 L359.11 312.47 L358.20 312.54 L357.29 312.59 L356.37 312.38 L355.46 312.41 L354.55 312.43 L353.64 312.50 L352.72 312.50 L351.81 312.58 L350.90 312.60 L349.99 312.41 L349.07 312.45 L348.16 312.47 L347.25 312.61 L346.34 312.45 L345.42 312.43 L344.51 312.48 L343.60 312.58 L342.69 312.44 L341.77 312.54 L340.86 312.36 L339.95 312.38 L339.04 312.61 L338.12 312.60 L337.21 312.53 L336.30 312.56 L335.39 312.36 L334.48 312.45 L333.56 312.36 L332.65 312.37 L331.74 312.44 L330.83 312.48 L329.91 312.60 L329.00 312.55 L328.09 312.62 L327.18 312.61 L326.26 312.63 L325.35 312.43 L324.44 312.42 L323.53 312.43 L322.61 312.48 L321.70 312.56 L320.79 312.57 L319.88 312.42 L318.96 312.49 L318.05 312.57 L317.14 312.58 L316.23 312.44 L315.31 312.59 L314.40 312.53 L313.49 312.63 L312.58 312.37 L311.67 312.51 L310.75 312.42 L309.84 312.48 L308.93 312.52 L308.02 312.47 L307.10 312.54 L306.19 312.42 L305.28 312.49 L304.37 312.53 L303.45 312.46 L302.54 312.35 L301.63 312.42 L300.72 312.50 L299.80 312.39 L298.89 312.44 L297.98 312.65 L297.07 312.60 L296.15 312.40 L295.24 312.46 L294.33 312.43 L293.42 312.54 L292.50 312.61 L291.59 312.61 L290.68 312.51 L289.77 312.40 L288.86 312.63 L287.94 312.36 L287.03 312.43 L286.12 312.50 L285.21 312.43 L284.29 312.58 L283.38 312.63 L282.47 312.62 L281.56 312.64 L280.64 312.57 L279.73 312.39 L278.82 312.50 L277.91 312.58 L276.99 312.54 L276.08 312.48 L275.17 312.39 L274.26 312.40 L273.34 312.58 L272.43 312.54 L271.52 312.48 L270.61 312.52 L269.69 312.54 L268.78 312.39 L267.87 312.58 L266.96 312.62 L266.05 312.39 L265.13 312.47 L264.22 312.60 L263.31 312.42 L262.40 312.60 L261.48 312.47 L260.57 312.49 L259.66 312.39 L258.75 312.59 L257.83 312.63 L256.92 312.39 L256.01 312.54 L255.10 312.54 L254.18 312.49 L253.27 312.60 L252.36 312.35 L251.45 312.41 L250.53 312.61 L249.62 312.52 L248.71 312.44 L247.80 312.56 L246.88 312.54 L245.97 312.38 L245.06 312.59 L244.15 312.41 L243.24 312.35 L242.32 312.53 L241.41 312.39 L240.50 312.54 L239.59 312.63 L238.67 312.48 L237.76 312.63 L236.85 312.41 L235.94 312.36 L235.02 312.60 L234.11 312.65 L233.20 312.42 L232.29 312.47 L231.37 312.62 L230.46 312.42 L229.55 312.46 L228.64 312.60 L227.72 312.60 L226.81 312.54 L225.90 312.48 L224.99 312.38 L224.07 312.65 L223.16 312.45 L222.25 312.37 L221.34 312.41 L220.43 312.46 L219.51 312.53 L218.60 312.57 L217.69 312.63 L216.78 312.43 L215.86 312.64 L214.95 312.36 L214.04 312.62 L213.13 312.44 L212.21 312.54 L211.30 312.45 L210.39 312.43 L209.48 312.36 L208.56 312.59 L207.65 312.62 L206.74 312.63 L205.83 312.36 L204.91 312.60 L204.00 312.64 L203.09 312.46 L202.18 312.40 L201.26 312.46 L200.35 312.57 L199.44 312.45 L198.53 312.57 L197.62 312.47 L196.70 312.39 L195.79 312.47 L194.88 312.55 L193.97 312.41 L193.05 312.44 L192.14 312.42 L191.23 312.64 L190.32 312.57 L189.40 312.55 L188.49 312.36 L187.58 312.55 L186.67 312.55 L185.75 312.44 L184.84 312.42 L183.93 312.62 L183.02 312.49 L182.10 312.42 L181.19 312.51 L180.28 312.56 L179.37 312.39 L178.45 312.63 L177.54 312.36 L176.63 312.58 L175.72 312.63 L174.81 312.40 L173.89 312.64 L172.98 312.63 L172.07 312.53 L171.16 312.56 L170.24 312.61 L169.33 312.48 L168.42 312.43 L167.51 312.54 L166.59 312.64 L165.68 312.45 L164.77 312.47 L163.86 312.62 L162.94 312.42 L162.03 312.38 L161.12 312.48 L160.21 312.42 L159.29 312.41 L158.38 312.47 L157.47 312.55 L156.56 312.57 L155.64 312.49 L154.73 312.36 L153.82 312.58 L152.91 312.36 L152.00 312.63 L151.08 312.59 L150.17 312.46 L149.26 312.43 L148.35 312.44 L147.43 312.36 L146.52 312.46 L145.61 312.47 L144.70 312.62 L143.78 312.39 L142.87 312.35 L141.96 312.45 L141.05 312.49 L140.13 312.50 L139.22 312.56 L138.31 312.60 L137.40 312.51 L136.48 312.41 L135.57 312.43 L134.66 312.60 L133.75 312.63 L132.83 312.62 L131.92 312.49 L131.01 312.55 L130.10 312.43 L129.19 312.56 L128.27 312.67 L127.36 312.98 L126.45 313.09 L125.54 313.34 L124.62 313.27 L123.71 313.13 L122.80 313.25 L121.89 313.27 L120.97 313.20 L120.06 313.24 L119.15 313.08 L118.24 313.06 L117.32 313.25 L116.41 313.30 L115.50 313.20 L114.59 313.29 L113.67 313.32 L112.76 313.24 L111.85 313.35 L110.94 313.31 L110.02 313.28 L109.11 313.12 L108.20 313.06" stroke="#0072bd" stroke-width="0.4" fill="#0072bd" stroke-linejoin="round" />
<rect x="107.3" y="278.6" width="2.3" height="6.2" rx="1" fill="#0072bd"/>
<rect x="107.4" y="267.2" width="3.5" height="1.5" fill="#2f7fc0"/>
<line x1="222.25" y1="386.40" x2="222.25" y2="430.10" stroke="#e8e8e8" stroke-width="1" />
<line x1="336.30" y1="386.40" x2="336.30" y2="430.10" stroke="#e8e8e8" stroke-width="1" />
<line x1="450.35" y1="386.40" x2="450.35" y2="430.10" stroke="#e8e8e8" stroke-width="1" />
<line x1="564.40" y1="386.40" x2="564.40" y2="430.10" stroke="#e8e8e8" stroke-width="1" />
<line x1="108.20" y1="388.40" x2="679.10" y2="388.40" stroke="#e8e8e8" stroke-width="1" />
<line x1="108.20" y1="406.80" x2="679.10" y2="406.80" stroke="#e8e8e8" stroke-width="1" />
<line x1="108.20" y1="424.40" x2="679.10" y2="424.40" stroke="#e8e8e8" stroke-width="1" />
<path d="M108.20 407.05 L109.57 406.54 L110.94 406.64 L112.31 406.47 L113.67 406.93 L115.04 406.91 L116.41 406.70 L117.78 406.74 L119.15 406.91 L120.52 406.94 L121.89 406.62 L123.25 407.04 L124.62 406.70 L125.99 406.89 L127.36 406.58 L128.73 406.53 L130.10 407.09 L131.47 406.96 L132.83 406.95 L134.20 406.48 L135.57 406.48 L136.94 406.56 L138.31 406.59 L139.68 406.66 L141.05 406.72 L142.42 406.48 L143.78 406.67 L145.15 406.90 L146.52 406.58 L147.89 407.04 L149.26 406.85 L150.63 406.95 L152.00 406.63 L153.36 406.75 L154.73 406.93 L156.10 406.69 L157.47 406.45 L158.84 407.03 L160.21 406.99 L161.58 406.65 L162.94 406.48 L164.31 407.05 L165.68 406.88 L167.05 406.48 L168.42 406.62 L169.79 406.53 L171.16 407.00 L172.52 406.60 L173.89 407.09 L175.26 406.97 L176.63 406.51 L178.00 406.94 L179.37 406.73 L180.74 406.97 L182.10 407.03 L183.47 406.65 L184.84 406.51 L186.21 407.11 L187.58 406.75 L188.95 407.10 L190.32 406.93 L191.68 406.97 L193.05 407.03 L194.42 406.89 L195.79 406.77 L197.16 406.49 L198.53 406.94 L199.90 406.75 L201.26 406.81 L202.63 407.10 L204.00 406.54 L205.37 406.98 L206.74 406.48 L208.11 406.94 L209.48 407.01 L210.84 406.63 L212.21 406.83 L213.58 407.13 L214.95 406.90 L216.32 406.83 L217.69 406.62 L219.06 406.49 L220.43 406.70 L221.79 406.74" stroke="#4496d6" stroke-width="1.0" fill="none" stroke-linejoin="round" />
<rect x="108.20" y="386.40" width="570.90" height="43.70" fill="none" stroke="#5e5e5e" stroke-width="1.4"/>
<line x1="222.25" y1="430.10" x2="222.25" y2="424.60" stroke="#3a3a3a" stroke-width="1.25" />
<line x1="222.25" y1="386.40" x2="222.25" y2="391.90" stroke="#3a3a3a" stroke-width="1.25" />
<line x1="336.30" y1="430.10" x2="336.30" y2="424.60" stroke="#3a3a3a" stroke-width="1.25" />
<line x1="336.30" y1="386.40" x2="336.30" y2="391.90" stroke="#3a3a3a" stroke-width="1.25" />
<line x1="450.35" y1="430.10" x2="450.35" y2="424.60" stroke="#3a3a3a" stroke-width="1.25" />
<line x1="450.35" y1="386.40" x2="450.35" y2="391.90" stroke="#3a3a3a" stroke-width="1.25" />
<line x1="564.40" y1="430.10" x2="564.40" y2="424.60" stroke="#3a3a3a" stroke-width="1.25" />
<line x1="564.40" y1="386.40" x2="564.40" y2="391.90" stroke="#3a3a3a" stroke-width="1.25" />
<line x1="108.20" y1="388.40" x2="113.70" y2="388.40" stroke="#3a3a3a" stroke-width="1.25" />
<line x1="679.10" y1="388.40" x2="673.60" y2="388.40" stroke="#3a3a3a" stroke-width="1.25" />
<line x1="108.20" y1="406.80" x2="113.70" y2="406.80" stroke="#3a3a3a" stroke-width="1.25" />
<line x1="679.10" y1="406.80" x2="673.60" y2="406.80" stroke="#3a3a3a" stroke-width="1.25" />
<line x1="108.20" y1="424.40" x2="113.70" y2="424.40" stroke="#3a3a3a" stroke-width="1.25" />
<line x1="679.10" y1="424.40" x2="673.60" y2="424.40" stroke="#3a3a3a" stroke-width="1.25" />
<path d="M221.45 406.59 L222.59 402.95 L223.73 401.41 L224.87 399.20 L226.01 397.43 L227.15 395.46 L228.29 393.92 L229.44 392.74 L230.58 392.91 L231.72 392.87 L232.86 392.79 L234.00 392.64 L235.14 392.89 L236.28 392.50 L237.42 392.43 L238.56 392.47 L239.70 392.76 L240.84 392.33 L241.98 392.57 L243.12 392.35 L244.26 392.23 L245.40 392.74 L246.54 392.71 L247.68 392.59 L248.82 392.53 L249.96 392.31 L251.10 392.17 L252.25 392.61 L253.39 392.80 L254.53 392.32 L255.67 392.23 L256.81 392.66 L257.95 392.32 L259.09 392.55 L260.23 392.74 L261.37 392.63 L262.51 392.59 L263.65 392.19 L264.79 392.28 L265.93 392.43 L267.07 392.62 L268.21 392.05 L269.35 392.45 L270.49 392.50 L271.63 392.66 L272.77 392.34 L273.91 392.19 L275.06 392.02 L276.20 392.07 L277.34 392.63 L278.48 391.97 L279.62 392.06 L280.76 391.92 L281.90 392.51 L283.04 392.20 L284.18 392.35 L285.32 392.18 L286.46 392.18 L287.60 392.44 L288.74 391.97 L289.88 392.15 L291.02 392.08 L292.16 391.88 L293.30 392.14 L294.44 392.44 L295.58 392.48 L296.72 392.22 L297.87 391.82 L299.01 392.19 L300.15 392.15 L301.29 392.08 L302.43 391.95 L303.57 392.35 L304.71 391.85 L305.85 392.02 L306.99 392.16 L308.13 392.09 L309.27 392.05 L310.41 391.95 L311.55 391.79 L312.69 392.03 L313.83 392.24 L314.97 391.70 L316.11 391.80 L317.25 392.00 L318.39 392.00 L319.53 391.95 L320.68 391.64 L321.82 391.62 L322.96 392.17 L324.10 392.05 L325.24 391.62 L326.38 392.04 L327.52 392.11 L328.66 391.63 L329.80 391.90 L330.94 391.59 L332.08 391.53 L333.22 391.74 L334.36 391.88 L335.50 391.67 L336.64 391.74 L337.78 391.82 L338.92 391.73 L340.06 391.88 L341.20 391.72 L342.34 391.65 L343.49 391.61 L344.63 391.20 L345.77 391.50 L346.91 390.76 L348.05 390.69 L349.19 391.07 L350.33 391.03 L351.47 390.44 L352.61 390.44 L353.75 390.40 L354.89 389.87 L356.03 390.28 L357.17 389.96 L358.31 389.91 L359.45 389.38 L360.59 389.50 L361.73 389.54 L362.87 388.83 L364.01 388.77 L365.15 389.12 L366.30 388.38 L367.44 388.77 L368.58 388.32 L369.72 388.00 L370.86 388.01 L372.00 388.01 L373.14 387.67 L374.28 387.91 L375.42 387.17 L376.56 387.25 L377.70 387.26 L378.84 386.97 L379.98 387.00 L381.12 386.48 L382.26 387.03 L383.40 386.33 L384.54 386.30 L385.68 386.35 L386.82 386.30 L387.96 386.48 L389.11 386.10 L390.25 386.17 L391.39 386.10 L392.53 386.10 L393.67 386.10 L394.81 386.10 L395.95 386.10 L397.09 386.10 L398.23 386.10 L399.37 386.10 L400.51 386.10 L401.65 386.10 L402.79 386.10 L403.93 386.10 L405.07 386.10 L406.21 386.10 L407.35 386.10 L408.49 386.10 L409.63 386.10 L410.77 386.10 L411.92 386.10 L413.06 386.10 L414.20 386.10 L415.34 386.10 L416.48 386.10 L417.62 386.10 L418.76 386.10 L419.90 386.10 L421.04 386.10 L422.18 386.10 L423.32 386.10 L424.46 386.10 L425.60 386.10 L426.74 386.10 L427.88 386.10 L429.02 386.10 L430.16 386.10 L431.30 386.10 L432.44 386.10 L433.58 386.10 L434.73 386.10 L435.87 386.10 L437.01 386.10 L438.15 386.10 L439.29 386.10 L440.43 386.10 L441.57 386.10 L442.71 386.10 L443.85 386.10 L444.99 386.10 L446.13 386.10 L447.27 386.10 L448.41 386.10 L449.55 386.10 L450.69 386.10 L451.83 386.10 L452.97 386.10 L454.11 386.10 L455.25 386.10 L456.39 386.10 L457.54 386.10 L458.68 386.10 L459.82 386.10 L460.96 386.10 L462.10 386.10 L463.24 386.10 L464.38 386.10 L465.52 386.10 L466.66 386.10 L467.80 386.10 L468.94 386.10 L470.08 386.10 L471.22 386.10 L472.36 386.10 L473.50 386.10 L474.64 386.10 L475.78 386.10 L476.92 386.10 L478.06 386.10 L479.20 386.10 L480.35 386.10 L481.49 386.10 L482.63 386.10 L483.77 386.10 L484.91 386.10 L486.05 386.10 L487.19 386.10 L488.33 386.10 L489.47 386.10 L490.61 386.10 L491.75 386.10 L492.89 386.10 L494.03 386.10 L495.17 386.10 L496.31 386.10 L497.45 386.10 L498.59 386.10 L499.73 386.10 L500.87 386.10 L502.01 386.10 L503.16 386.10 L504.30 386.10 L505.44 386.10 L506.58 386.10 L507.72 386.10 L508.86 386.10 L510.00 386.10 L511.14 386.10 L512.28 386.10 L513.42 386.10 L514.56 386.10 L515.70 386.10 L516.84 386.10 L517.98 386.10 L519.12 386.10 L520.26 386.10 L521.40 386.10 L522.54 386.10 L523.68 386.10 L524.82 386.10 L525.97 386.10 L527.11 386.10 L528.25 386.10 L529.39 386.10 L530.53 386.10 L531.67 386.10 L532.81 386.10 L533.95 386.10 L535.09 386.10 L536.23 386.10 L537.37 386.10 L538.51 386.10 L539.65 386.10 L540.79 386.10 L541.93 386.10 L543.07 386.10 L544.21 386.10 L545.35 386.10 L546.49 386.10 L547.63 386.10 L548.78 386.10 L549.92 386.10 L551.06 386.10 L552.20 386.10 L553.34 386.10 L554.48 386.10 L555.62 386.10 L556.76 386.10 L557.90 386.10 L559.04 386.10 L560.18 386.10 L561.32 386.10 L562.46 386.10 L563.60 386.10 L564.74 386.10 L565.88 386.10 L567.02 386.10 L568.16 386.10 L569.30 386.10 L570.44 386.10 L571.59 386.10 L572.73 386.10 L573.87 386.10 L575.01 386.10 L576.15 386.10 L577.29 386.10 L578.43 386.10 L579.57 386.10 L580.71 386.10 L581.85 386.10 L582.99 386.10 L584.13 386.10 L585.27 386.10 L586.41 386.10 L587.55 386.10 L588.69 386.10 L589.83 386.10 L590.97 386.10 L592.11 386.10 L593.25 386.10 L594.40 386.10 L595.54 386.10 L596.68 386.10 L597.82 386.10 L598.96 386.10 L600.10 386.10 L601.24 386.10 L602.38 386.10 L603.52 386.10 L604.66 386.10 L605.80 386.10 L606.94 386.10 L608.08 386.10 L609.22 386.10 L610.36 386.10 L611.50 386.10 L612.64 386.10 L613.78 386.10 L614.92 386.10 L616.06 386.10 L617.21 386.10 L618.35 386.10 L619.49 386.10 L620.63 386.10 L621.77 386.10 L622.91 386.10 L624.05 386.10 L625.19 386.10 L626.33 386.10 L627.47 386.10 L628.61 386.10 L629.75 386.10 L630.89 386.10 L632.03 386.10 L633.17 386.10 L634.31 386.10 L635.45 386.10 L636.59 386.10 L637.73 386.10 L638.87 386.10 L640.02 386.10 L641.16 386.10 L642.30 386.10 L643.44 386.10 L644.58 386.10 L645.72 386.10 L646.86 386.10 L648.00 386.10 L649.14 386.10 L650.28 386.10 L651.42 386.10 L652.56 386.10 L653.70 386.10 L654.84 386.10 L655.98 386.10 L657.12 386.10 L658.26 386.10 L659.40 386.10 L660.54 386.10 L661.68 386.10 L662.83 386.10 L663.97 386.10 L665.11 386.10 L666.25 386.10 L667.39 386.10 L668.53 386.10 L669.67 386.10 L670.81 386.10 L671.95 386.10 L673.09 386.10 L674.23 386.10 L675.37 386.10 L676.51 386.10 L677.65 386.10 L678.79 386.10 L679.80 386.10 L679.80 429.70 L678.79 429.80 L677.65 429.39 L676.51 429.66 L675.37 429.67 L674.23 429.91 L673.09 429.55 L671.95 429.54 L670.81 429.75 L669.67 429.72 L668.53 429.39 L667.39 429.99 L666.25 429.91 L665.11 429.76 L663.97 429.67 L662.83 429.73 L661.68 429.49 L660.54 429.95 L659.40 429.96 L658.26 429.39 L657.12 429.71 L655.98 429.95 L654.84 429.57 L653.70 429.54 L652.56 429.35 L651.42 429.58 L650.28 429.96 L649.14 430.05 L648.00 429.64 L646.86 429.39 L645.72 429.85 L644.58 429.39 L643.44 429.88 L642.30 429.42 L641.16 429.40 L640.02 429.43 L638.87 429.89 L637.73 429.83 L636.59 429.63 L635.45 429.82 L634.31 429.71 L633.17 429.66 L632.03 429.68 L630.89 429.94 L629.75 429.67 L628.61 429.37 L627.47 429.98 L626.33 428.82 L625.19 428.98 L624.05 428.68 L622.91 428.71 L621.77 429.13 L620.63 429.10 L619.49 428.72 L618.35 429.02 L617.21 428.74 L616.06 428.95 L614.92 428.76 L613.78 428.71 L612.64 429.00 L611.50 428.59 L610.36 428.90 L609.22 429.03 L608.08 428.68 L606.94 428.95 L605.80 428.49 L604.66 428.59 L603.52 428.72 L602.38 428.71 L601.24 428.81 L600.10 428.93 L598.96 428.98 L597.82 428.78 L596.68 428.94 L595.54 428.73 L594.40 428.77 L593.25 429.01 L592.11 428.52 L590.97 428.56 L589.83 429.02 L588.69 428.72 L587.55 429.06 L586.41 429.03 L585.27 428.77 L584.13 428.57 L582.99 429.02 L581.85 428.82 L580.71 429.10 L579.57 428.60 L578.43 428.82 L577.29 428.78 L576.15 428.64 L575.01 428.61 L573.87 428.89 L572.73 428.92 L571.59 428.82 L570.44 428.95 L569.30 428.97 L568.16 428.61 L567.02 428.86 L565.88 429.05 L564.74 428.45 L563.60 428.67 L562.46 428.90 L561.32 428.94 L560.18 429.09 L559.04 429.04 L557.90 428.59 L556.76 428.71 L555.62 428.63 L554.48 428.88 L553.34 429.15 L552.20 428.74 L551.06 428.72 L549.92 428.74 L548.78 428.73 L547.63 429.06 L546.49 428.93 L545.35 428.83 L544.21 428.93 L543.07 428.70 L541.93 428.74 L540.79 428.48 L539.65 428.64 L538.51 428.64 L537.37 429.07 L536.23 428.60 L535.09 429.09 L533.95 428.70 L532.81 428.80 L531.67 428.55 L530.53 428.58 L529.39 428.55 L528.25 428.53 L527.11 428.67 L525.97 428.46 L524.82 428.75 L523.68 428.80 L522.54 428.93 L521.40 428.61 L520.26 429.14 L519.12 428.95 L517.98 428.69 L516.84 428.93 L515.70 428.52 L514.56 428.56 L513.42 428.46 L512.28 428.53 L511.14 428.66 L510.00 429.05 L508.86 429.05 L507.72 428.70 L506.58 428.60 L505.44 428.86 L504.30 428.87 L503.16 428.56 L502.01 428.79 L500.87 428.65 L499.73 428.98 L498.59 429.06 L497.45 428.56 L496.31 428.60 L495.17 428.66 L494.03 428.98 L492.89 428.61 L491.75 428.63 L490.61 428.61 L489.47 429.11 L488.33 428.74 L487.19 428.49 L486.05 428.73 L484.91 428.50 L483.77 428.53 L482.63 428.68 L481.49 429.01 L480.35 428.90 L479.20 429.14 L478.06 428.99 L476.92 428.56 L475.78 428.97 L474.64 428.55 L473.50 429.11 L472.36 428.84 L471.22 428.49 L470.08 428.47 L468.94 428.98 L467.80 429.14 L466.66 428.99 L465.52 428.78 L464.38 428.54 L463.24 428.82 L462.10 428.77 L460.96 428.99 L459.82 428.99 L458.68 428.95 L457.54 428.97 L456.39 428.87 L455.25 428.84 L454.11 428.83 L452.97 429.02 L451.83 428.99 L450.69 428.56 L449.55 428.68 L448.41 428.88 L447.27 429.14 L446.13 429.10 L444.99 428.77 L443.85 428.87 L442.71 428.68 L441.57 428.48 L440.43 428.49 L439.29 428.93 L438.15 429.80 L437.01 429.58 L435.87 430.00 L434.73 429.96 L433.58 429.48 L432.44 429.59 L431.30 429.92 L430.16 429.77 L429.02 429.86 L427.88 429.80 L426.74 429.77 L425.60 429.63 L424.46 429.84 L423.32 429.47 L422.18 429.53 L421.04 429.98 L419.90 429.40 L418.76 429.65 L417.62 429.60 L416.48 429.76 L415.34 429.41 L414.20 429.99 L413.06 430.01 L411.92 429.86 L410.77 429.56 L409.63 429.47 L408.49 428.85 L407.35 428.77 L406.21 428.44 L405.07 428.64 L403.93 428.53 L402.79 428.66 L401.65 428.50 L400.51 428.26 L399.37 428.55 L398.23 428.55 L397.09 428.56 L395.95 428.19 L394.81 428.56 L393.67 428.39 L392.53 428.01 L391.39 428.12 L390.25 428.20 L389.11 427.90 L387.96 428.12 L386.82 427.70 L385.68 427.43 L384.54 427.34 L383.40 427.53 L382.26 427.00 L381.12 427.19 L379.98 427.01 L378.84 426.68 L377.70 426.85 L376.56 426.81 L375.42 426.50 L374.28 426.70 L373.14 426.34 L372.00 426.15 L370.86 426.62 L369.72 426.50 L368.58 426.15 L367.44 426.21 L366.30 425.77 L365.15 426.12 L364.01 425.82 L362.87 425.63 L361.73 425.98 L360.59 425.72 L359.45 425.78 L358.31 425.36 L357.17 425.23 L356.03 425.10 L354.89 424.99 L353.75 424.94 L352.61 425.39 L351.47 424.90 L350.33 425.20 L349.19 424.77 L348.05 425.04 L346.91 425.06 L345.77 425.12 L344.63 425.11 L343.49 424.66 L342.34 425.03 L341.20 424.77 L340.06 424.63 L338.92 425.14 L337.78 425.08 L336.64 425.08 L335.50 424.93 L334.36 424.56 L333.22 424.40 L332.08 424.54 L330.94 424.90 L329.80 424.87 L328.66 424.98 L327.52 424.57 L326.38 424.34 L325.24 424.94 L324.10 424.76 L322.96 424.60 L321.82 424.50 L320.68 424.45 L319.53 424.56 L318.39 424.21 L317.25 424.27 L316.11 424.43 L314.97 424.44 L313.83 424.22 L312.69 424.11 L311.55 424.63 L310.41 424.07 L309.27 424.36 L308.13 424.24 L306.99 424.19 L305.85 423.97 L304.71 424.36 L303.57 423.88 L302.43 424.08 L301.29 424.28 L300.15 424.47 L299.01 423.99 L297.87 424.24 L296.72 424.31 L295.58 424.40 L294.44 424.31 L293.30 424.36 L292.16 423.89 L291.02 423.78 L289.88 424.02 L288.74 423.81 L287.60 424.21 L286.46 424.03 L285.32 423.78 L284.18 423.88 L283.04 423.70 L281.90 424.03 L280.76 424.05 L279.62 423.94 L278.48 423.73 L277.34 423.46 L276.20 423.69 L275.06 423.84 L273.91 423.74 L272.77 423.43 L271.63 423.64 L270.49 423.91 L269.35 423.83 L268.21 423.63 L267.07 423.38 L265.93 423.45 L264.79 423.43 L263.65 423.73 L262.51 423.36 L261.37 423.70 L260.23 423.21 L259.09 423.67 L257.95 423.18 L256.81 423.62 L255.67 423.03 L254.53 423.16 L253.39 423.43 L252.25 423.39 L251.10 423.58 L249.96 423.29 L248.82 423.19 L247.68 422.95 L246.54 423.54 L245.40 422.89 L244.26 423.50 L243.12 422.84 L241.98 423.02 L240.84 422.98 L239.70 423.04 L238.56 422.85 L237.42 422.73 L236.28 422.92 L235.14 422.73 L234.00 423.16 L232.86 423.03 L231.72 422.70 L230.58 422.95 L229.44 422.78 L228.29 421.51 L227.15 419.35 L226.01 417.52 L224.87 414.96 L223.73 412.49 L222.59 410.54 L221.45 406.67" stroke="#0072bd" stroke-width="0.5" fill="#0072bd" stroke-linejoin="round" />
<line x1="222.25" y1="503.70" x2="222.25" y2="547.20" stroke="#e8e8e8" stroke-width="1" />
<line x1="336.30" y1="503.70" x2="336.30" y2="547.20" stroke="#e8e8e8" stroke-width="1" />
<line x1="450.35" y1="503.70" x2="450.35" y2="547.20" stroke="#e8e8e8" stroke-width="1" />
<line x1="564.40" y1="503.70" x2="564.40" y2="547.20" stroke="#e8e8e8" stroke-width="1" />
<line x1="108.20" y1="505.00" x2="679.10" y2="505.00" stroke="#e8e8e8" stroke-width="1" />
<line x1="108.20" y1="523.80" x2="679.10" y2="523.80" stroke="#e8e8e8" stroke-width="1" />
<line x1="108.20" y1="541.50" x2="679.10" y2="541.50" stroke="#e8e8e8" stroke-width="1" />
<path d="M108.20 523.48 L109.57 524.05 L110.94 523.50 L112.31 523.87 L113.67 523.58 L115.04 524.10 L116.41 523.84 L117.78 524.01 L119.15 523.80 L120.52 523.92 L121.89 523.92 L123.25 523.66 L124.62 523.60 L125.99 524.04 L127.36 523.55 L128.73 524.09 L130.10 523.59 L131.47 523.52 L132.83 523.52 L134.20 524.00 L135.57 524.12 L136.94 523.74 L138.31 523.91 L139.68 523.63 L141.05 524.08 L142.42 523.93 L143.78 523.56 L145.15 523.49 L146.52 523.94 L147.89 523.48 L149.26 524.04 L150.63 523.66 L152.00 523.61 L153.36 523.86 L154.73 523.67 L156.10 523.84 L157.47 523.56 L158.84 524.09 L160.21 523.68 L161.58 524.04 L162.94 523.56 L164.31 524.01 L165.68 524.14 L167.05 523.72 L168.42 523.47 L169.79 523.72 L171.16 523.90 L172.52 523.61 L173.89 523.83 L175.26 523.52 L176.63 523.78 L178.00 523.96 L179.37 523.75 L180.74 523.93 L182.10 523.53 L183.47 524.03 L184.84 523.54 L186.21 524.10 L187.58 524.15 L188.95 524.11 L190.32 523.82 L191.68 523.65 L193.05 523.69 L194.42 523.98 L195.79 523.80 L197.16 524.10 L198.53 523.52 L199.90 523.79 L201.26 524.05 L202.63 523.87 L204.00 523.83 L205.37 523.51 L206.74 523.55 L208.11 523.64 L209.48 524.08 L210.84 524.04 L212.21 523.61 L213.58 524.10 L214.95 523.47 L216.32 523.87 L217.69 524.13 L219.06 523.69 L220.43 524.11 L221.79 523.91" stroke="#4496d6" stroke-width="1.0" fill="none" stroke-linejoin="round" />
<rect x="108.20" y="503.70" width="570.90" height="43.50" fill="none" stroke="#5e5e5e" stroke-width="1.4"/>
<line x1="222.25" y1="547.20" x2="222.25" y2="541.70" stroke="#3a3a3a" stroke-width="1.25" />
<line x1="222.25" y1="503.70" x2="222.25" y2="509.20" stroke="#3a3a3a" stroke-width="1.25" />
<line x1="336.30" y1="547.20" x2="336.30" y2="541.70" stroke="#3a3a3a" stroke-width="1.25" />
<line x1="336.30" y1="503.70" x2="336.30" y2="509.20" stroke="#3a3a3a" stroke-width="1.25" />
<line x1="450.35" y1="547.20" x2="450.35" y2="541.70" stroke="#3a3a3a" stroke-width="1.25" />
<line x1="450.35" y1="503.70" x2="450.35" y2="509.20" stroke="#3a3a3a" stroke-width="1.25" />
<line x1="564.40" y1="547.20" x2="564.40" y2="541.70" stroke="#3a3a3a" stroke-width="1.25" />
<line x1="564.40" y1="503.70" x2="564.40" y2="509.20" stroke="#3a3a3a" stroke-width="1.25" />
<line x1="108.20" y1="505.00" x2="113.70" y2="505.00" stroke="#3a3a3a" stroke-width="1.25" />
<line x1="679.10" y1="505.00" x2="673.60" y2="505.00" stroke="#3a3a3a" stroke-width="1.25" />
<line x1="108.20" y1="523.80" x2="113.70" y2="523.80" stroke="#3a3a3a" stroke-width="1.25" />
<line x1="679.10" y1="523.80" x2="673.60" y2="523.80" stroke="#3a3a3a" stroke-width="1.25" />
<line x1="108.20" y1="541.50" x2="113.70" y2="541.50" stroke="#3a3a3a" stroke-width="1.25" />
<line x1="679.10" y1="541.50" x2="673.60" y2="541.50" stroke="#3a3a3a" stroke-width="1.25" />
<path d="M221.45 523.49 L222.59 520.16 L223.73 518.73 L224.87 517.13 L226.01 514.99 L227.15 513.37 L228.29 512.22 L229.44 511.17 L230.58 511.18 L231.72 511.25 L232.86 511.17 L234.00 510.99 L235.14 510.81 L236.28 511.33 L237.42 511.23 L238.56 510.94 L239.70 510.64 L240.84 510.63 L241.98 510.89 L243.12 510.81 L244.26 510.83 L245.40 510.68 L246.54 510.67 L247.68 510.45 L248.82 510.94 L249.96 510.92 L251.10 510.92 L252.25 510.79 L253.39 510.68 L254.53 510.69 L255.67 510.32 L256.81 510.38 L257.95 510.28 L259.09 510.10 L260.23 510.18 L261.37 510.53 L262.51 509.99 L263.65 510.34 L264.79 509.92 L265.93 510.34 L267.07 510.07 L268.21 510.12 L269.35 509.77 L270.49 510.02 L271.63 509.76 L272.77 510.18 L273.91 509.74 L275.06 509.71 L276.20 509.73 L277.34 510.23 L278.48 510.07 L279.62 509.83 L280.76 510.09 L281.90 509.87 L283.04 509.83 L284.18 509.91 L285.32 509.83 L286.46 509.41 L287.60 509.73 L288.74 509.33 L289.88 509.86 L291.02 509.69 L292.16 509.70 L293.30 509.41 L294.44 509.63 L295.58 509.25 L296.72 509.39 L297.87 509.06 L299.01 509.50 L300.15 509.51 L301.29 509.03 L302.43 509.02 L303.57 509.46 L304.71 509.29 L305.85 509.31 L306.99 509.21 L308.13 509.28 L309.27 508.73 L310.41 509.23 L311.55 509.02 L312.69 509.13 L313.83 508.89 L314.97 508.59 L316.11 508.78 L317.25 508.77 L318.39 508.57 L319.53 508.98 L320.68 508.56 L321.82 508.52 L322.96 508.61 L324.10 508.83 L325.24 508.71 L326.38 508.78 L327.52 508.36 L328.66 508.39 L329.80 508.73 L330.94 508.70 L332.08 508.40 L333.22 508.37 L334.36 508.12 L335.50 508.07 L336.64 507.92 L337.78 508.55 L338.92 508.43 L340.06 508.07 L341.20 508.18 L342.34 508.13 L343.49 508.38 L344.63 508.17 L345.77 508.11 L346.91 508.31 L348.05 508.06 L349.19 507.82 L350.33 507.97 L351.47 507.79 L352.61 508.06 L353.75 507.89 L354.89 507.62 L356.03 507.67 L357.17 507.57 L358.31 507.00 L359.45 506.97 L360.59 507.40 L361.73 507.08 L362.87 506.60 L364.01 506.98 L365.15 506.54 L366.30 506.43 L367.44 506.40 L368.58 506.44 L369.72 506.34 L370.86 506.42 L372.00 506.10 L373.14 505.61 L374.28 505.94 L375.42 505.48 L376.56 505.47 L377.70 505.10 L378.84 504.98 L379.98 504.77 L381.12 504.87 L382.26 505.16 L383.40 504.58 L384.54 504.38 L385.68 504.43 L386.82 504.18 L387.96 504.16 L389.11 503.96 L390.25 504.31 L391.39 504.15 L392.53 504.01 L393.67 503.47 L394.81 503.60 L395.95 503.65 L397.09 503.40 L398.23 503.67 L399.37 503.40 L400.51 503.40 L401.65 503.40 L402.79 503.40 L403.93 503.40 L405.07 503.40 L406.21 503.40 L407.35 503.40 L408.49 503.40 L409.63 503.40 L410.77 503.40 L411.92 503.40 L413.06 503.40 L414.20 503.40 L415.34 503.40 L416.48 503.40 L417.62 503.40 L418.76 503.40 L419.90 503.40 L421.04 503.40 L422.18 503.40 L423.32 503.40 L424.46 503.40 L425.60 503.40 L426.74 503.40 L427.88 503.40 L429.02 503.40 L430.16 503.40 L431.30 503.40 L432.44 503.40 L433.58 503.40 L434.73 503.40 L435.87 503.40 L437.01 503.40 L438.15 503.40 L439.29 503.40 L440.43 503.40 L441.57 503.40 L442.71 503.40 L443.85 503.40 L444.99 503.40 L446.13 503.40 L447.27 503.40 L448.41 503.40 L449.55 503.40 L450.69 503.40 L451.83 503.40 L452.97 503.40 L454.11 503.40 L455.25 503.40 L456.39 503.40 L457.54 503.40 L458.68 503.40 L459.82 503.40 L460.96 503.40 L462.10 503.40 L463.24 503.40 L464.38 503.40 L465.52 503.40 L466.66 503.40 L467.80 503.40 L468.94 503.40 L470.08 503.40 L471.22 503.40 L472.36 503.40 L473.50 503.40 L474.64 503.40 L475.78 503.40 L476.92 503.40 L478.06 503.40 L479.20 503.40 L480.35 503.40 L481.49 503.40 L482.63 503.40 L483.77 503.40 L484.91 503.40 L486.05 503.40 L487.19 503.40 L488.33 503.40 L489.47 503.40 L490.61 503.40 L491.75 503.40 L492.89 503.40 L494.03 503.40 L495.17 503.40 L496.31 503.40 L497.45 503.40 L498.59 503.40 L499.73 503.40 L500.87 503.40 L502.01 503.40 L503.16 503.40 L504.30 503.40 L505.44 503.40 L506.58 503.40 L507.72 503.40 L508.86 503.40 L510.00 503.40 L511.14 503.40 L512.28 503.40 L513.42 503.40 L514.56 503.40 L515.70 503.40 L516.84 503.40 L517.98 503.40 L519.12 503.40 L520.26 503.40 L521.40 503.40 L522.54 503.40 L523.68 503.40 L524.82 503.40 L525.97 503.40 L527.11 503.40 L528.25 503.40 L529.39 503.40 L530.53 503.40 L531.67 503.40 L532.81 503.40 L533.95 503.40 L535.09 503.40 L536.23 503.40 L537.37 503.40 L538.51 503.40 L539.65 503.40 L540.79 503.40 L541.93 503.40 L543.07 503.40 L544.21 503.40 L545.35 503.40 L546.49 503.40 L547.63 503.40 L548.78 503.40 L549.92 503.40 L551.06 503.40 L552.20 503.40 L553.34 503.40 L554.48 503.40 L555.62 503.40 L556.76 503.40 L557.90 503.40 L559.04 503.40 L560.18 503.40 L561.32 503.40 L562.46 503.40 L563.60 503.40 L564.74 503.40 L565.88 503.40 L567.02 503.40 L568.16 503.40 L569.30 503.40 L570.44 503.40 L571.59 503.40 L572.73 503.40 L573.87 503.40 L575.01 503.40 L576.15 503.40 L577.29 503.40 L578.43 503.40 L579.57 503.40 L580.71 503.40 L581.85 503.40 L582.99 503.40 L584.13 503.40 L585.27 503.40 L586.41 503.40 L587.55 503.40 L588.69 503.40 L589.83 503.40 L590.97 503.40 L592.11 503.40 L593.25 503.40 L594.40 503.40 L595.54 503.40 L596.68 503.40 L597.82 503.40 L598.96 503.40 L600.10 503.40 L601.24 503.40 L602.38 503.40 L603.52 503.40 L604.66 503.40 L605.80 503.40 L606.94 503.40 L608.08 503.40 L609.22 503.40 L610.36 503.40 L611.50 503.40 L612.64 503.40 L613.78 503.40 L614.92 503.40 L616.06 503.40 L617.21 503.40 L618.35 503.40 L619.49 503.40 L620.63 503.40 L621.77 503.40 L622.91 503.40 L624.05 503.40 L625.19 503.40 L626.33 503.40 L627.47 503.40 L628.61 503.40 L629.75 503.40 L630.89 503.40 L632.03 503.40 L633.17 503.40 L634.31 503.40 L635.45 503.40 L636.59 503.40 L637.73 503.40 L638.87 503.40 L640.02 503.40 L641.16 503.40 L642.30 503.40 L643.44 503.40 L644.58 503.40 L645.72 503.40 L646.86 503.40 L648.00 503.40 L649.14 503.40 L650.28 503.40 L651.42 503.40 L652.56 503.40 L653.70 503.40 L654.84 503.40 L655.98 503.40 L657.12 503.40 L658.26 503.40 L659.40 503.40 L660.54 503.40 L661.68 503.40 L662.83 503.40 L663.97 503.40 L665.11 503.40 L666.25 503.40 L667.39 503.40 L668.53 503.40 L669.67 503.40 L670.81 503.40 L671.95 503.40 L673.09 503.40 L674.23 503.40 L675.37 503.40 L676.51 503.40 L677.65 503.40 L678.79 503.40 L679.80 503.40 L679.80 546.80 L678.79 546.61 L677.65 546.79 L676.51 546.52 L675.37 546.77 L674.23 546.76 L673.09 546.61 L671.95 546.91 L670.81 547.06 L669.67 546.90 L668.53 546.72 L667.39 546.59 L666.25 546.99 L665.11 546.65 L663.97 546.62 L662.83 546.82 L661.68 546.63 L660.54 546.55 L659.40 546.70 L658.26 546.54 L657.12 546.46 L655.98 546.61 L654.84 546.91 L653.70 547.14 L652.56 546.55 L651.42 546.91 L650.28 546.91 L649.14 547.08 L648.00 546.46 L646.86 546.92 L645.72 547.05 L644.58 547.03 L643.44 547.03 L642.30 547.10 L641.16 546.96 L640.02 546.93 L638.87 546.66 L637.73 546.57 L636.59 546.64 L635.45 547.13 L634.31 546.53 L633.17 546.70 L632.03 546.50 L630.89 546.66 L629.75 546.87 L628.61 546.86 L627.47 547.13 L626.33 545.70 L625.19 545.57 L624.05 545.72 L622.91 546.07 L621.77 546.03 L620.63 545.67 L619.49 546.05 L618.35 545.56 L617.21 545.75 L616.06 545.61 L614.92 546.03 L613.78 545.84 L612.64 545.93 L611.50 545.92 L610.36 546.23 L609.22 545.81 L608.08 545.77 L606.94 545.62 L605.80 546.11 L604.66 546.09 L603.52 545.78 L602.38 546.17 L601.24 545.56 L600.10 545.72 L598.96 546.08 L597.82 546.14 L596.68 546.20 L595.54 546.24 L594.40 545.62 L593.25 545.79 L592.11 545.73 L590.97 545.86 L589.83 545.68 L588.69 545.85 L587.55 546.03 L586.41 546.05 L585.27 546.19 L584.13 546.06 L582.99 546.00 L581.85 545.84 L580.71 545.91 L579.57 546.03 L578.43 545.60 L577.29 546.09 L576.15 545.97 L575.01 546.08 L573.87 545.81 L572.73 546.14 L571.59 546.06 L570.44 545.80 L569.30 546.23 L568.16 545.85 L567.02 546.01 L565.88 545.87 L564.74 546.13 L563.60 546.07 L562.46 545.83 L561.32 545.93 L560.18 545.60 L559.04 545.97 L557.90 545.90 L556.76 545.94 L555.62 545.55 L554.48 546.17 L553.34 545.62 L552.20 545.66 L551.06 545.68 L549.92 546.23 L548.78 546.08 L547.63 545.66 L546.49 546.19 L545.35 546.20 L544.21 545.70 L543.07 545.72 L541.93 545.58 L540.79 546.23 L539.65 545.58 L538.51 545.99 L537.37 546.10 L536.23 545.71 L535.09 545.72 L533.95 545.97 L532.81 545.65 L531.67 546.03 L530.53 545.72 L529.39 546.02 L528.25 545.88 L527.11 546.06 L525.97 545.86 L524.82 546.00 L523.68 545.87 L522.54 545.64 L521.40 545.62 L520.26 546.18 L519.12 545.69 L517.98 545.89 L516.84 545.99 L515.70 545.60 L514.56 546.17 L513.42 545.87 L512.28 546.13 L511.14 545.82 L510.00 545.70 L508.86 545.64 L507.72 546.12 L506.58 546.06 L505.44 546.24 L504.30 546.05 L503.16 545.56 L502.01 545.70 L500.87 545.94 L499.73 545.64 L498.59 545.88 L497.45 546.19 L496.31 545.88 L495.17 545.66 L494.03 545.62 L492.89 546.11 L491.75 545.80 L490.61 545.58 L489.47 546.24 L488.33 545.66 L487.19 545.73 L486.05 546.06 L484.91 545.56 L483.77 545.59 L482.63 546.06 L481.49 546.21 L480.35 546.23 L479.20 545.94 L478.06 545.69 L476.92 545.69 L475.78 545.91 L474.64 545.69 L473.50 545.83 L472.36 545.79 L471.22 546.05 L470.08 545.87 L468.94 545.88 L467.80 546.24 L466.66 546.22 L465.52 546.25 L464.38 545.71 L463.24 545.91 L462.10 545.96 L460.96 545.99 L459.82 545.85 L458.68 545.57 L457.54 545.57 L456.39 546.12 L455.25 545.70 L454.11 545.70 L452.97 545.78 L451.83 545.99 L450.69 545.63 L449.55 545.58 L448.41 545.94 L447.27 545.59 L446.13 545.65 L444.99 545.55 L443.85 546.14 L442.71 546.04 L441.57 546.11 L440.43 546.02 L439.29 545.71 L438.15 546.64 L437.01 546.87 L435.87 546.64 L434.73 546.94 L433.58 546.54 L432.44 546.90 L431.30 546.97 L430.16 547.08 L429.02 546.98 L427.88 546.56 L426.74 547.00 L425.60 546.64 L424.46 546.73 L423.32 546.92 L422.18 546.80 L421.04 546.50 L419.90 546.54 L418.76 546.02 L417.62 545.92 L416.48 545.66 L415.34 546.05 L414.20 545.69 L413.06 546.06 L411.92 545.89 L410.77 545.73 L409.63 545.67 L408.49 545.23 L407.35 545.37 L406.21 545.53 L405.07 544.97 L403.93 545.02 L402.79 544.99 L401.65 545.23 L400.51 545.10 L399.37 544.90 L398.23 544.73 L397.09 544.51 L395.95 544.68 L394.81 544.44 L393.67 544.47 L392.53 544.05 L391.39 544.16 L390.25 543.92 L389.11 543.64 L387.96 544.06 L386.82 543.55 L385.68 543.24 L384.54 543.27 L383.40 543.60 L382.26 542.96 L381.12 543.40 L379.98 542.82 L378.84 542.72 L377.70 542.92 L376.56 542.91 L375.42 542.30 L374.28 542.66 L373.14 542.41 L372.00 542.11 L370.86 542.33 L369.72 542.01 L368.58 542.23 L367.44 542.28 L366.30 541.90 L365.15 541.99 L364.01 541.84 L362.87 541.61 L361.73 541.68 L360.59 541.34 L359.45 541.86 L358.31 541.39 L357.17 541.66 L356.03 541.73 L354.89 541.40 L353.75 541.54 L352.61 541.08 L351.47 541.27 L350.33 541.62 L349.19 541.33 L348.05 541.38 L346.91 541.17 L345.77 541.20 L344.63 540.92 L343.49 541.47 L342.34 541.08 L341.20 541.40 L340.06 540.84 L338.92 540.92 L337.78 541.04 L336.64 540.82 L335.50 541.05 L334.36 541.23 L333.22 541.32 L332.08 541.27 L330.94 540.86 L329.80 540.98 L328.66 540.69 L327.52 541.18 L326.38 540.61 L325.24 540.49 L324.10 540.52 L322.96 540.88 L321.82 540.88 L320.68 540.43 L319.53 540.77 L318.39 540.56 L317.25 540.53 L316.11 540.69 L314.97 540.81 L313.83 540.23 L312.69 540.20 L311.55 540.76 L310.41 540.39 L309.27 540.58 L308.13 540.39 L306.99 540.74 L305.85 540.61 L304.71 540.30 L303.57 540.48 L302.43 540.33 L301.29 540.28 L300.15 540.10 L299.01 540.09 L297.87 540.56 L296.72 540.52 L295.58 540.51 L294.44 540.42 L293.30 540.37 L292.16 540.18 L291.02 540.32 L289.88 540.35 L288.74 540.27 L287.60 540.19 L286.46 540.32 L285.32 539.87 L284.18 539.66 L283.04 540.17 L281.90 539.69 L280.76 540.05 L279.62 540.05 L278.48 539.81 L277.34 540.15 L276.20 539.66 L275.06 539.54 L273.91 539.62 L272.77 539.83 L271.63 539.50 L270.49 539.59 L269.35 539.94 L268.21 539.91 L267.07 539.80 L265.93 539.78 L264.79 539.62 L263.65 539.85 L262.51 539.31 L261.37 539.61 L260.23 539.51 L259.09 539.47 L257.95 539.67 L256.81 539.38 L255.67 539.02 L254.53 539.08 L253.39 539.11 L252.25 539.32 L251.10 539.24 L249.96 538.89 L248.82 539.20 L247.68 539.00 L246.54 538.95 L245.40 538.92 L244.26 539.11 L243.12 538.85 L241.98 538.79 L240.84 539.03 L239.70 539.28 L238.56 538.74 L237.42 539.22 L236.28 538.82 L235.14 538.68 L234.00 539.01 L232.86 538.76 L231.72 538.59 L230.58 538.54 L229.44 538.47 L228.29 537.83 L227.15 535.73 L226.01 533.66 L224.87 531.40 L223.73 529.25 L222.59 527.22 L221.45 523.68" stroke="#0072bd" stroke-width="0.5" fill="#0072bd" stroke-linejoin="round" />
<line x1="222.25" y1="620.30" x2="222.25" y2="664.10" stroke="#e8e8e8" stroke-width="1" />
<line x1="336.30" y1="620.30" x2="336.30" y2="664.10" stroke="#e8e8e8" stroke-width="1" />
<line x1="450.35" y1="620.30" x2="450.35" y2="664.10" stroke="#e8e8e8" stroke-width="1" />
<line x1="564.40" y1="620.30" x2="564.40" y2="664.10" stroke="#e8e8e8" stroke-width="1" />
<line x1="108.20" y1="622.30" x2="679.10" y2="622.30" stroke="#e8e8e8" stroke-width="1" />
<line x1="108.20" y1="640.80" x2="679.10" y2="640.80" stroke="#e8e8e8" stroke-width="1" />
<line x1="108.20" y1="658.30" x2="679.10" y2="658.30" stroke="#e8e8e8" stroke-width="1" />
<path d="M108.20 640.76 L109.57 640.53 L110.94 640.50 L112.31 640.70 L113.67 640.78 L115.04 641.11 L116.41 640.84 L117.78 640.50 L119.15 640.61 L120.52 640.97 L121.89 640.84 L123.25 641.06 L124.62 641.12 L125.99 641.05 L127.36 640.53 L128.73 641.11 L130.10 640.82 L131.47 640.62 L132.83 640.57 L134.20 641.06 L135.57 640.60 L136.94 640.51 L138.31 640.64 L139.68 641.10 L141.05 640.77 L142.42 640.96 L143.78 640.50 L145.15 640.77 L146.52 640.67 L147.89 640.59 L149.26 640.91 L150.63 640.70 L152.00 640.53 L153.36 641.14 L154.73 640.79 L156.10 640.58 L157.47 640.46 L158.84 640.91 L160.21 640.81 L161.58 640.47 L162.94 640.78 L164.31 640.97 L165.68 640.83 L167.05 640.61 L168.42 640.80 L169.79 640.87 L171.16 640.91 L172.52 640.55 L173.89 641.01 L175.26 641.11 L176.63 640.97 L178.00 641.05 L179.37 640.71 L180.74 641.08 L182.10 640.58 L183.47 640.61 L184.84 640.87 L186.21 641.08 L187.58 640.51 L188.95 640.60 L190.32 640.48 L191.68 640.76 L193.05 640.55 L194.42 640.58 L195.79 640.97 L197.16 640.86 L198.53 641.11 L199.90 640.73 L201.26 640.93 L202.63 640.46 L204.00 641.11 L205.37 640.61 L206.74 640.78 L208.11 640.81 L209.48 641.11 L210.84 640.79 L212.21 641.14 L213.58 640.88 L214.95 640.60 L216.32 641.03 L217.69 640.59 L219.06 641.15 L220.43 640.77 L221.79 640.61" stroke="#4496d6" stroke-width="1.0" fill="none" stroke-linejoin="round" />
<rect x="108.20" y="620.30" width="570.90" height="43.80" fill="none" stroke="#5e5e5e" stroke-width="1.4"/>
<line x1="222.25" y1="664.10" x2="222.25" y2="658.60" stroke="#3a3a3a" stroke-width="1.25" />
<line x1="222.25" y1="620.30" x2="222.25" y2="625.80" stroke="#3a3a3a" stroke-width="1.25" />
<line x1="336.30" y1="664.10" x2="336.30" y2="658.60" stroke="#3a3a3a" stroke-width="1.25" />
<line x1="336.30" y1="620.30" x2="336.30" y2="625.80" stroke="#3a3a3a" stroke-width="1.25" />
<line x1="450.35" y1="664.10" x2="450.35" y2="658.60" stroke="#3a3a3a" stroke-width="1.25" />
<line x1="450.35" y1="620.30" x2="450.35" y2="625.80" stroke="#3a3a3a" stroke-width="1.25" />
<line x1="564.40" y1="664.10" x2="564.40" y2="658.60" stroke="#3a3a3a" stroke-width="1.25" />
<line x1="564.40" y1="620.30" x2="564.40" y2="625.80" stroke="#3a3a3a" stroke-width="1.25" />
<line x1="108.20" y1="622.30" x2="113.70" y2="622.30" stroke="#3a3a3a" stroke-width="1.25" />
<line x1="679.10" y1="622.30" x2="673.60" y2="622.30" stroke="#3a3a3a" stroke-width="1.25" />
<line x1="108.20" y1="640.80" x2="113.70" y2="640.80" stroke="#3a3a3a" stroke-width="1.25" />
<line x1="679.10" y1="640.80" x2="673.60" y2="640.80" stroke="#3a3a3a" stroke-width="1.25" />
<line x1="108.20" y1="658.30" x2="113.70" y2="658.30" stroke="#3a3a3a" stroke-width="1.25" />
<line x1="679.10" y1="658.30" x2="673.60" y2="658.30" stroke="#3a3a3a" stroke-width="1.25" />
<path d="M221.45 641.12 L222.59 637.13 L223.73 635.52 L224.87 633.51 L226.01 632.03 L227.15 630.08 L228.29 628.17 L229.44 627.45 L230.58 627.10 L231.72 627.58 L232.86 626.98 L234.00 627.27 L235.14 626.88 L236.28 626.94 L237.42 627.11 L238.56 627.40 L239.70 627.35 L240.84 626.92 L241.98 626.99 L243.12 627.33 L244.26 626.68 L245.40 626.84 L246.54 627.23 L247.68 626.97 L248.82 627.14 L249.96 626.91 L251.10 626.70 L252.25 626.92 L253.39 627.11 L254.53 626.60 L255.67 627.07 L256.81 626.54 L257.95 626.57 L259.09 626.63 L260.23 626.82 L261.37 626.85 L262.51 626.63 L263.65 626.84 L264.79 626.59 L265.93 626.73 L267.07 626.34 L268.21 626.74 L269.35 626.47 L270.49 626.29 L271.63 626.80 L272.77 626.26 L273.91 626.33 L275.06 626.59 L276.20 626.19 L277.34 626.20 L278.48 626.08 L279.62 626.26 L280.76 626.35 L281.90 626.33 L283.04 626.39 L284.18 626.00 L285.32 625.87 L286.46 625.95 L287.60 626.48 L288.74 626.37 L289.88 626.21 L291.02 626.42 L292.16 626.26 L293.30 625.88 L294.44 626.10 L295.58 626.27 L296.72 625.77 L297.87 625.98 L299.01 625.78 L300.15 625.57 L301.29 626.03 L302.43 625.68 L303.57 625.99 L304.71 625.49 L305.85 626.11 L306.99 625.53 L308.13 625.77 L309.27 625.68 L310.41 625.54 L311.55 625.40 L312.69 625.38 L313.83 625.78 L314.97 625.83 L316.11 625.49 L317.25 625.36 L318.39 625.60 L319.53 625.29 L320.68 625.43 L321.82 625.30 L322.96 625.68 L324.10 625.50 L325.24 625.57 L326.38 625.60 L327.52 625.09 L328.66 625.40 L329.80 625.11 L330.94 625.03 L332.08 625.10 L333.22 625.21 L334.36 625.40 L335.50 625.37 L336.64 625.05 L337.78 625.31 L338.92 625.43 L340.06 625.00 L341.20 624.94 L342.34 624.89 L343.49 625.29 L344.63 625.36 L345.77 624.88 L346.91 625.14 L348.05 625.02 L349.19 624.58 L350.33 624.60 L351.47 625.04 L352.61 624.49 L353.75 624.63 L354.89 624.45 L356.03 624.48 L357.17 624.09 L358.31 624.19 L359.45 623.99 L360.59 623.86 L361.73 623.93 L362.87 624.02 L364.01 623.67 L365.15 623.89 L366.30 623.19 L367.44 623.43 L368.58 622.88 L369.72 623.36 L370.86 622.92 L372.00 622.67 L373.14 622.85 L374.28 622.49 L375.42 622.32 L376.56 622.58 L377.70 621.97 L378.84 621.73 L379.98 621.55 L381.12 621.73 L382.26 621.35 L383.40 621.63 L384.54 621.20 L385.68 621.01 L386.82 620.79 L387.96 621.11 L389.11 621.10 L390.25 621.02 L391.39 620.44 L392.53 620.63 L393.67 620.11 L394.81 620.59 L395.95 620.40 L397.09 620.00 L398.23 620.00 L399.37 620.00 L400.51 620.00 L401.65 620.00 L402.79 620.00 L403.93 620.00 L405.07 620.00 L406.21 620.00 L407.35 620.00 L408.49 620.00 L409.63 620.00 L410.77 620.00 L411.92 620.00 L413.06 620.00 L414.20 620.00 L415.34 620.00 L416.48 620.00 L417.62 620.00 L418.76 620.00 L419.90 620.00 L421.04 620.00 L422.18 620.00 L423.32 620.00 L424.46 620.00 L425.60 620.00 L426.74 620.00 L427.88 620.00 L429.02 620.00 L430.16 620.00 L431.30 620.00 L432.44 620.00 L433.58 620.00 L434.73 620.00 L435.87 620.00 L437.01 620.00 L438.15 620.00 L439.29 620.00 L440.43 620.00 L441.57 620.00 L442.71 620.00 L443.85 620.00 L444.99 620.00 L446.13 620.00 L447.27 620.00 L448.41 620.00 L449.55 620.00 L450.69 620.00 L451.83 620.00 L452.97 620.00 L454.11 620.00 L455.25 620.00 L456.39 620.00 L457.54 620.00 L458.68 620.00 L459.82 620.00 L460.96 620.00 L462.10 620.00 L463.24 620.00 L464.38 620.00 L465.52 620.00 L466.66 620.00 L467.80 620.00 L468.94 620.00 L470.08 620.00 L471.22 620.00 L472.36 620.00 L473.50 620.00 L474.64 620.00 L475.78 620.00 L476.92 620.00 L478.06 620.00 L479.20 620.00 L480.35 620.00 L481.49 620.00 L482.63 620.00 L483.77 620.00 L484.91 620.00 L486.05 620.00 L487.19 620.00 L488.33 620.00 L489.47 620.00 L490.61 620.00 L491.75 620.00 L492.89 620.00 L494.03 620.00 L495.17 620.00 L496.31 620.00 L497.45 620.00 L498.59 620.00 L499.73 620.00 L500.87 620.00 L502.01 620.00 L503.16 620.00 L504.30 620.00 L505.44 620.00 L506.58 620.00 L507.72 620.00 L508.86 620.00 L510.00 620.00 L511.14 620.00 L512.28 620.00 L513.42 620.00 L514.56 620.00 L515.70 620.00 L516.84 620.00 L517.98 620.00 L519.12 620.00 L520.26 620.00 L521.40 620.00 L522.54 620.00 L523.68 620.00 L524.82 620.00 L525.97 620.00 L527.11 620.00 L528.25 620.00 L529.39 620.00 L530.53 620.00 L531.67 620.00 L532.81 620.00 L533.95 620.00 L535.09 620.00 L536.23 620.00 L537.37 620.00 L538.51 620.00 L539.65 620.00 L540.79 620.00 L541.93 620.00 L543.07 620.00 L544.21 620.00 L545.35 620.00 L546.49 620.00 L547.63 620.00 L548.78 620.00 L549.92 620.00 L551.06 620.00 L552.20 620.00 L553.34 620.00 L554.48 620.00 L555.62 620.00 L556.76 620.00 L557.90 620.00 L559.04 620.00 L560.18 620.00 L561.32 620.00 L562.46 620.00 L563.60 620.00 L564.74 620.00 L565.88 620.00 L567.02 620.00 L568.16 620.00 L569.30 620.00 L570.44 620.00 L571.59 620.00 L572.73 620.00 L573.87 620.00 L575.01 620.00 L576.15 620.00 L577.29 620.00 L578.43 620.00 L579.57 620.00 L580.71 620.00 L581.85 620.00 L582.99 620.00 L584.13 620.00 L585.27 620.00 L586.41 620.00 L587.55 620.00 L588.69 620.00 L589.83 620.00 L590.97 620.00 L592.11 620.00 L593.25 620.00 L594.40 620.00 L595.54 620.00 L596.68 620.00 L597.82 620.00 L598.96 620.00 L600.10 620.00 L601.24 620.00 L602.38 620.00 L603.52 620.00 L604.66 620.00 L605.80 620.00 L606.94 620.00 L608.08 620.00 L609.22 620.00 L610.36 620.00 L611.50 620.00 L612.64 620.00 L613.78 620.00 L614.92 620.00 L616.06 620.00 L617.21 620.00 L618.35 620.00 L619.49 620.00 L620.63 620.00 L621.77 620.00 L622.91 620.00 L624.05 620.00 L625.19 620.00 L626.33 620.00 L627.47 620.00 L628.61 620.00 L629.75 620.00 L630.89 620.00 L632.03 620.00 L633.17 620.00 L634.31 620.00 L635.45 620.00 L636.59 620.00 L637.73 620.00 L638.87 620.00 L640.02 620.00 L641.16 620.00 L642.30 620.00 L643.44 620.00 L644.58 620.00 L645.72 620.00 L646.86 620.00 L648.00 620.00 L649.14 620.00 L650.28 620.00 L651.42 620.00 L652.56 620.00 L653.70 620.00 L654.84 620.00 L655.98 620.00 L657.12 620.00 L658.26 620.00 L659.40 620.00 L660.54 620.00 L661.68 620.00 L662.83 620.00 L663.97 620.00 L665.11 620.00 L666.25 620.00 L667.39 620.00 L668.53 620.00 L669.67 620.00 L670.81 620.00 L671.95 620.00 L673.09 620.00 L674.23 620.00 L675.37 620.00 L676.51 620.00 L677.65 620.00 L678.79 620.00 L679.80 620.00 L679.80 663.70 L678.79 663.68 L677.65 663.47 L676.51 663.74 L675.37 663.46 L674.23 664.02 L673.09 663.67 L671.95 663.87 L670.81 663.91 L669.67 663.42 L668.53 663.95 L667.39 663.79 L666.25 664.03 L665.11 663.98 L663.97 663.99 L662.83 663.90 L661.68 664.00 L660.54 663.59 L659.40 663.48 L658.26 663.92 L657.12 663.48 L655.98 663.59 L654.84 663.85 L653.70 663.68 L652.56 663.98 L651.42 663.41 L650.28 663.37 L649.14 663.52 L648.00 663.80 L646.86 663.87 L645.72 664.04 L644.58 663.83 L643.44 663.87 L642.30 663.68 L641.16 663.63 L640.02 663.67 L638.87 663.92 L637.73 663.65 L636.59 664.01 L635.45 663.61 L634.31 663.81 L633.17 663.86 L632.03 663.42 L630.89 663.86 L629.75 663.86 L628.61 663.96 L627.47 663.54 L626.33 662.99 L625.19 663.10 L624.05 662.86 L622.91 662.85 L621.77 662.55 L620.63 663.10 L619.49 663.10 L618.35 662.79 L617.21 662.56 L616.06 662.63 L614.92 662.67 L613.78 663.14 L612.64 663.00 L611.50 663.08 L610.36 662.71 L609.22 662.88 L608.08 663.12 L606.94 662.74 L605.80 662.85 L604.66 662.74 L603.52 662.45 L602.38 663.00 L601.24 662.45 L600.10 662.72 L598.96 662.55 L597.82 663.09 L596.68 663.11 L595.54 662.69 L594.40 663.07 L593.25 662.85 L592.11 662.76 L590.97 662.93 L589.83 662.49 L588.69 662.70 L587.55 662.58 L586.41 662.94 L585.27 663.13 L584.13 662.63 L582.99 662.75 L581.85 662.70 L580.71 662.92 L579.57 662.58 L578.43 662.53 L577.29 662.95 L576.15 662.54 L575.01 662.48 L573.87 662.87 L572.73 663.06 L571.59 662.72 L570.44 662.97 L569.30 662.75 L568.16 662.51 L567.02 662.84 L565.88 663.09 L564.74 662.96 L563.60 662.49 L562.46 662.55 L561.32 662.49 L560.18 662.47 L559.04 662.56 L557.90 662.68 L556.76 662.83 L555.62 662.70 L554.48 662.71 L553.34 663.00 L552.20 662.72 L551.06 662.78 L549.92 663.10 L548.78 662.69 L547.63 662.70 L546.49 662.79 L545.35 662.47 L544.21 663.08 L543.07 662.58 L541.93 662.83 L540.79 662.69 L539.65 662.86 L538.51 663.05 L537.37 662.55 L536.23 662.96 L535.09 662.84 L533.95 662.75 L532.81 663.09 L531.67 662.70 L530.53 663.04 L529.39 662.85 L528.25 662.56 L527.11 662.93 L525.97 662.75 L524.82 662.73 L523.68 662.94 L522.54 662.57 L521.40 662.86 L520.26 662.78 L519.12 662.79 L517.98 662.76 L516.84 662.58 L515.70 662.67 L514.56 662.51 L513.42 662.56 L512.28 662.88 L511.14 662.56 L510.00 662.62 L508.86 662.69 L507.72 662.90 L506.58 662.55 L505.44 663.01 L504.30 662.51 L503.16 663.11 L502.01 663.10 L500.87 662.64 L499.73 662.95 L498.59 662.95 L497.45 662.59 L496.31 662.87 L495.17 662.81 L494.03 662.62 L492.89 662.95 L491.75 662.45 L490.61 662.78 L489.47 662.74 L488.33 662.63 L487.19 662.75 L486.05 662.89 L484.91 662.84 L483.77 662.81 L482.63 663.08 L481.49 662.80 L480.35 662.60 L479.20 662.70 L478.06 662.98 L476.92 663.09 L475.78 663.01 L474.64 663.15 L473.50 662.55 L472.36 662.80 L471.22 662.58 L470.08 662.68 L468.94 662.59 L467.80 662.95 L466.66 662.75 L465.52 663.07 L464.38 663.01 L463.24 662.61 L462.10 663.00 L460.96 662.82 L459.82 662.75 L458.68 662.75 L457.54 662.47 L456.39 662.54 L455.25 663.12 L454.11 662.70 L452.97 662.92 L451.83 662.74 L450.69 662.81 L449.55 662.86 L448.41 662.85 L447.27 662.67 L446.13 663.08 L444.99 663.08 L443.85 662.67 L442.71 663.01 L441.57 662.77 L440.43 662.97 L439.29 662.50 L438.15 663.91 L437.01 663.58 L435.87 663.52 L434.73 663.50 L433.58 663.90 L432.44 663.59 L431.30 663.73 L430.16 663.38 L429.02 663.82 L427.88 664.01 L426.74 663.97 L425.60 663.94 L424.46 663.92 L423.32 663.73 L422.18 663.94 L421.04 663.81 L419.90 663.92 L418.76 662.96 L417.62 663.01 L416.48 662.60 L415.34 663.02 L414.20 662.64 L413.06 662.47 L411.92 662.52 L410.77 662.47 L409.63 662.33 L408.49 662.67 L407.35 662.68 L406.21 662.36 L405.07 661.87 L403.93 662.39 L402.79 661.99 L401.65 661.85 L400.51 661.65 L399.37 662.03 L398.23 662.03 L397.09 661.42 L395.95 661.39 L394.81 661.12 L393.67 661.08 L392.53 661.36 L391.39 661.07 L390.25 661.06 L389.11 660.87 L387.96 661.06 L386.82 660.51 L385.68 660.90 L384.54 660.20 L383.40 660.31 L382.26 660.03 L381.12 660.39 L379.98 659.83 L378.84 659.69 L377.70 660.05 L376.56 659.46 L375.42 659.39 L374.28 659.30 L373.14 659.69 L372.00 659.11 L370.86 659.42 L369.72 659.00 L368.58 659.52 L367.44 658.96 L366.30 659.01 L365.15 659.06 L364.01 659.22 L362.87 658.78 L361.73 658.97 L360.59 658.65 L359.45 658.86 L358.31 658.70 L357.17 658.38 L356.03 658.86 L354.89 658.79 L353.75 658.63 L352.61 658.33 L351.47 658.55 L350.33 658.85 L349.19 658.54 L348.05 658.22 L346.91 658.17 L345.77 658.33 L344.63 658.65 L343.49 658.57 L342.34 658.59 L341.20 658.13 L340.06 658.46 L338.92 658.12 L337.78 658.39 L336.64 658.38 L335.50 658.07 L334.36 657.91 L333.22 658.24 L332.08 658.03 L330.94 658.27 L329.80 658.21 L328.66 657.88 L327.52 658.22 L326.38 657.90 L325.24 658.28 L324.10 657.82 L322.96 657.73 L321.82 658.20 L320.68 658.13 L319.53 658.09 L318.39 657.61 L317.25 658.21 L316.11 657.88 L314.97 658.02 L313.83 657.67 L312.69 657.90 L311.55 657.56 L310.41 657.46 L309.27 657.74 L308.13 657.60 L306.99 657.59 L305.85 658.01 L304.71 657.39 L303.57 657.98 L302.43 657.45 L301.29 657.25 L300.15 657.34 L299.01 657.25 L297.87 657.69 L296.72 657.17 L295.58 657.55 L294.44 657.71 L293.30 657.67 L292.16 657.28 L291.02 657.18 L289.88 657.52 L288.74 657.45 L287.60 657.52 L286.46 657.22 L285.32 657.41 L284.18 657.25 L283.04 657.20 L281.90 657.12 L280.76 657.51 L279.62 656.88 L278.48 657.09 L277.34 656.80 L276.20 656.91 L275.06 656.82 L273.91 657.18 L272.77 657.20 L271.63 657.30 L270.49 656.93 L269.35 657.29 L268.21 656.76 L267.07 657.25 L265.93 657.01 L264.79 657.01 L263.65 656.52 L262.51 656.96 L261.37 656.90 L260.23 656.50 L259.09 656.79 L257.95 656.57 L256.81 656.86 L255.67 656.76 L254.53 656.39 L253.39 656.99 L252.25 656.85 L251.10 656.73 L249.96 656.33 L248.82 656.68 L247.68 656.80 L246.54 656.47 L245.40 656.83 L244.26 656.34 L243.12 656.19 L241.98 656.13 L240.84 656.73 L239.70 656.72 L238.56 656.49 L237.42 656.29 L236.28 656.39 L235.14 656.12 L234.00 656.56 L232.86 656.28 L231.72 655.99 L230.58 655.95 L229.44 655.95 L228.29 655.17 L227.15 652.81 L226.01 650.49 L224.87 648.45 L223.73 646.21 L222.59 644.29 L221.45 640.68" stroke="#0072bd" stroke-width="0.5" fill="#0072bd" stroke-linejoin="round" />
<rect x="197.9" y="774.5" width="60.29999999999998" height="192.70000000000005" fill="#fff" stroke="#111" stroke-width="1.5"/>
<line x1="223.60" y1="781.50" x2="223.60" y2="809.80" stroke="#d4d4d4" stroke-width="0.8" />
<line x1="198.70" y1="781.50" x2="257.40" y2="781.50" stroke="#989898" stroke-width="0.9" />
<line x1="198.70" y1="809.80" x2="257.40" y2="809.80" stroke="#989898" stroke-width="0.9" />
<line x1="223.60" y1="781.50" x2="223.60" y2="787.50" stroke="#888" stroke-width="0.8" />
<line x1="223.60" y1="809.80" x2="223.60" y2="803.80" stroke="#888" stroke-width="0.8" />
<path d="M198.90 803.57 L199.46 802.21 L200.01 799.91 L200.57 797.03 L201.12 794.02 L201.68 791.34 L202.23 789.40 L202.79 788.49 L203.34 788.77 L203.90 790.18 L204.45 792.51 L205.01 795.40 L205.56 798.41 L206.12 801.07 L206.67 802.97 L207.23 803.82 L207.78 803.49 L208.34 802.03 L208.89 799.67 L209.45 796.76 L210.00 793.76 L210.56 791.13 L211.12 789.27 L211.67 788.47 L212.23 788.85 L212.78 790.36 L213.34 792.76 L213.89 795.68 L214.45 798.67 L215.00 801.28 L215.56 803.09 L216.11 803.84 L216.67 803.40 L217.22 801.85 L217.78 799.42 L218.33 796.48 L218.89 793.50 L219.44 790.92 L220.00 789.15 L220.55 788.45 L221.11 788.95 L221.66 790.54 L222.22 793.01 L222.78 795.95 L223.33 798.93 L223.89 801.48 L224.44 803.21 L225.00 803.85 L225.55 803.30 L226.11 801.66 L226.66 799.17 L227.22 796.21 L227.77 793.24 L228.33 790.72 L228.88 789.04 L229.44 788.45 L229.99 789.05 L230.55 790.74 L231.10 793.26 L231.66 796.23 L232.21 799.19 L232.77 801.68 L233.32 803.31 L233.88 803.85 L234.44 803.20 L234.99 801.46 L235.55 798.91 L236.10 795.93 L236.66 792.99 L237.21 790.53 L237.77 788.94 L238.32 788.46 L238.88 789.16 L239.43 790.94 L239.99 793.52 L240.54 796.51 L241.10 799.44 L241.65 801.86 L242.21 803.41 L242.76 803.84 L243.32 803.08 L243.87 801.26 L244.43 798.65 L244.98 795.65 L245.54 792.74 L246.10 790.34 L246.65 788.84 L247.21 788.47 L247.76 789.28 L248.32 791.14 L248.87 793.78 L249.43 796.78 L249.98 799.69 L250.54 802.05 L251.09 803.50 L251.65 803.82 L252.20 802.96 L252.76 801.05 L253.31 798.39 L253.87 795.38 L254.42 792.49 L254.98 790.17 L255.53 788.76 L256.09 788.50 L256.64 789.41 L257.20 791.36" stroke="#4a9bd8" stroke-width="1.0" fill="none" stroke-linejoin="round" />
<line x1="223.60" y1="851.60" x2="223.60" y2="879.80" stroke="#d4d4d4" stroke-width="0.8" />
<line x1="198.70" y1="851.60" x2="257.40" y2="851.60" stroke="#989898" stroke-width="0.9" />
<line x1="198.70" y1="879.80" x2="257.40" y2="879.80" stroke="#989898" stroke-width="0.9" />
<line x1="223.60" y1="851.60" x2="223.60" y2="857.60" stroke="#888" stroke-width="0.8" />
<line x1="223.60" y1="879.80" x2="223.60" y2="873.80" stroke="#888" stroke-width="0.8" />
<path d="M198.90 860.71 L199.46 859.05 L200.01 858.50 L200.57 859.13 L201.12 860.85 L201.68 863.39 L202.23 866.37 L202.79 869.32 L203.34 871.79 L203.90 873.40 L204.45 873.90 L205.01 873.21 L205.56 871.45 L206.12 868.88 L206.67 865.89 L207.23 862.96 L207.78 860.52 L208.34 858.96 L208.89 858.51 L209.45 859.25 L210.00 861.05 L210.56 863.65 L211.12 866.65 L211.67 869.57 L212.23 871.97 L212.78 873.49 L213.34 873.88 L213.89 873.09 L214.45 871.24 L215.00 868.62 L215.56 865.62 L216.11 862.71 L216.67 860.34 L217.22 858.87 L217.78 858.53 L218.33 859.37 L218.89 861.26 L219.44 863.92 L220.00 866.92 L220.55 869.82 L221.11 872.15 L221.66 873.57 L222.22 873.86 L222.78 872.97 L223.33 871.03 L223.89 868.35 L224.44 865.34 L225.00 862.46 L225.55 860.16 L226.11 858.79 L226.66 858.56 L227.22 859.50 L227.77 861.48 L228.33 864.18 L228.88 867.20 L229.44 870.06 L229.99 872.32 L230.55 873.65 L231.10 873.83 L231.66 872.83 L232.21 870.81 L232.77 868.08 L233.32 865.07 L233.88 862.22 L234.44 859.99 L234.99 858.72 L235.55 858.59 L236.10 859.64 L236.66 861.70 L237.21 864.45 L237.77 867.47 L238.32 870.29 L238.88 872.49 L239.43 873.71 L239.99 873.78 L240.54 872.68 L241.10 870.59 L241.65 867.82 L242.21 864.79 L242.76 861.99 L243.32 859.83 L243.87 858.66 L244.43 858.64 L244.98 859.79 L245.54 861.93 L246.10 864.72 L246.65 867.74 L247.21 870.53 L247.76 872.64 L248.32 873.77 L248.87 873.73 L249.43 872.53 L249.98 870.36 L250.54 867.54 L251.09 864.52 L251.65 861.76 L252.20 859.68 L252.76 858.61 L253.31 858.70 L253.87 859.95 L254.42 862.16 L254.98 864.99 L255.53 868.01 L256.09 870.75 L256.64 872.79 L257.20 873.82" stroke="#4a9bd8" stroke-width="1.0" fill="none" stroke-linejoin="round" />
<line x1="223.60" y1="922.30" x2="223.60" y2="950.40" stroke="#d4d4d4" stroke-width="0.8" />
<line x1="198.70" y1="922.30" x2="257.40" y2="922.30" stroke="#989898" stroke-width="0.9" />
<line x1="198.70" y1="950.40" x2="257.40" y2="950.40" stroke="#989898" stroke-width="0.9" />
<line x1="223.60" y1="922.30" x2="223.60" y2="928.30" stroke="#888" stroke-width="0.8" />
<line x1="223.60" y1="950.40" x2="223.60" y2="944.40" stroke="#888" stroke-width="0.8" />
<path d="M198.90 934.92 L199.46 937.93 L200.01 940.78 L200.57 943.03 L201.12 944.32 L201.68 944.46 L202.23 943.43 L202.79 941.39 L203.34 938.65 L203.90 935.63 L204.45 932.80 L205.01 930.59 L205.56 929.35 L206.12 929.26 L206.67 930.34 L207.23 932.42 L207.78 935.19 L208.34 938.21 L208.89 941.02 L209.45 943.19 L210.00 944.38 L210.56 944.42 L211.12 943.29 L211.67 941.16 L212.23 938.38 L212.78 935.36 L213.34 932.57 L213.89 930.43 L214.45 929.29 L215.00 929.31 L215.56 930.49 L216.11 932.65 L216.67 935.46 L217.22 938.48 L217.78 941.25 L218.33 943.34 L218.89 944.44 L219.44 944.36 L220.00 943.13 L220.55 940.93 L221.11 938.11 L221.66 935.09 L222.22 932.34 L222.78 930.28 L223.33 929.24 L223.89 929.37 L224.44 930.65 L225.00 932.89 L225.55 935.73 L226.11 938.75 L226.66 941.47 L227.22 943.49 L227.77 944.48 L228.33 944.30 L228.88 942.97 L229.44 940.70 L229.99 937.83 L230.55 934.82 L231.10 932.12 L231.66 930.14 L232.21 929.20 L232.77 929.44 L233.32 930.82 L233.88 933.13 L234.44 936.00 L234.99 939.01 L235.55 941.69 L236.10 943.62 L236.66 944.51 L237.21 944.22 L237.77 942.79 L238.32 940.45 L238.88 937.56 L239.43 934.55 L239.99 931.90 L240.54 930.01 L241.10 929.18 L241.65 929.52 L242.21 930.99 L242.76 933.37 L243.32 936.28 L243.87 939.28 L244.43 941.90 L244.98 943.75 L245.54 944.53 L246.10 944.13 L246.65 942.61 L247.21 940.21 L247.76 937.28 L248.32 934.29 L248.87 931.69 L249.43 929.89 L249.98 929.16 L250.54 929.61 L251.09 931.18 L251.65 933.62 L252.20 936.56 L252.76 939.54 L253.31 942.11 L253.87 943.87 L254.42 944.55 L254.98 944.04 L255.53 942.43 L256.09 939.96 L256.64 937.01 L257.20 934.03" stroke="#4a9bd8" stroke-width="1.0" fill="none" stroke-linejoin="round" />
<rect x="337.5" y="774.7" width="65.19999999999999" height="191.69999999999993" fill="#fff" stroke="#111" stroke-width="1.5"/>
<line x1="368.00" y1="783.00" x2="368.00" y2="810.80" stroke="#d4d4d4" stroke-width="0.8" />
<line x1="338.30" y1="783.00" x2="401.90" y2="783.00" stroke="#989898" stroke-width="0.9" />
<line x1="338.30" y1="810.80" x2="401.90" y2="810.80" stroke="#989898" stroke-width="0.9" />
<line x1="368.00" y1="783.00" x2="368.00" y2="789.00" stroke="#888" stroke-width="0.8" />
<line x1="368.00" y1="810.80" x2="368.00" y2="804.80" stroke="#888" stroke-width="0.8" />
<path d="M338.50 798.10 L338.82 794.43 L339.13 791.31 L339.45 789.23 L339.76 788.50 L340.08 789.23 L340.40 791.31 L340.71 794.43 L341.03 798.10 L341.34 801.77 L341.66 804.89 L341.98 806.97 L342.29 807.70 L342.61 806.97 L342.92 804.89 L343.24 801.77 L343.56 798.10 L343.87 794.43 L344.19 791.31 L344.50 789.23 L344.82 788.50 L345.14 789.23 L345.45 791.31 L345.77 794.43 L346.08 798.10 L346.40 801.77 L346.72 804.89 L347.03 806.97 L347.35 807.70 L347.66 806.97 L347.98 804.89 L348.30 801.77 L348.61 798.10 L348.93 794.43 L349.24 791.31 L349.56 789.23 L349.88 788.50 L350.19 789.23 L350.51 791.31 L350.82 794.43 L351.14 798.10 L351.46 801.77 L351.77 804.89 L352.09 806.97 L352.40 807.70 L352.72 806.97 L353.04 804.89 L353.35 801.77 L353.67 798.10 L353.98 794.43 L354.30 791.31 L354.62 789.23 L354.93 788.50 L355.25 789.23 L355.56 791.31 L355.88 794.43 L356.20 798.10 L356.51 801.77 L356.83 804.89 L357.14 806.97 L357.46 807.70 L357.78 806.97 L358.09 804.89 L358.41 801.77 L358.72 798.10 L359.04 794.43 L359.36 791.31 L359.67 789.23 L359.99 788.50 L360.30 789.23 L360.62 791.31 L360.94 794.43 L361.25 798.10 L361.57 801.77 L361.88 804.89 L362.20 806.97 L362.52 807.70 L362.83 806.97 L363.15 804.89 L363.46 801.77 L363.78 798.10 L364.10 794.43 L364.41 791.31 L364.73 789.23 L365.04 788.50 L365.36 789.23 L365.68 791.31 L365.99 794.43 L366.31 798.10 L366.62 801.77 L366.94 804.89 L367.26 806.97 L367.57 807.70 L367.89 806.97 L368.20 804.89 L368.52 801.77 L368.84 798.10 L369.15 794.43 L369.47 791.31 L369.78 789.23 L370.10 788.50 L370.42 789.23 L370.73 791.31 L371.05 794.43 L371.36 798.10 L371.68 801.77 L372.00 804.89 L372.31 806.97 L372.63 807.70 L372.94 806.97 L373.26 804.89 L373.58 801.77 L373.89 798.10 L374.21 794.43 L374.52 791.31 L374.84 789.23 L375.16 788.50 L375.47 789.23 L375.79 791.31 L376.10 794.43 L376.42 798.10 L376.74 801.77 L377.05 804.89 L377.37 806.97 L377.68 807.70 L378.00 806.97 L378.32 804.89 L378.63 801.77 L378.95 798.10 L379.26 794.43 L379.58 791.31 L379.90 789.23 L380.21 788.50 L380.53 789.23 L380.84 791.31 L381.16 794.43 L381.48 798.10 L381.79 801.77 L382.11 804.89 L382.42 806.97 L382.74 807.70 L383.06 806.97 L383.37 804.89 L383.69 801.77 L384.00 798.10 L384.32 794.43 L384.64 791.31 L384.95 789.23 L385.27 788.50 L385.58 789.23 L385.90 791.31 L386.22 794.43 L386.53 798.10 L386.85 801.77 L387.16 804.89 L387.48 806.97 L387.80 807.70 L388.11 806.97 L388.43 804.89 L388.74 801.77 L389.06 798.10 L389.38 794.43 L389.69 791.31 L390.01 789.23 L390.32 788.50 L390.64 789.23 L390.96 791.31 L391.27 794.43 L391.59 798.10 L391.90 801.77 L392.22 804.89 L392.54 806.97 L392.85 807.70 L393.17 806.97 L393.48 804.89 L393.80 801.77 L394.12 798.10 L394.43 794.43 L394.75 791.31 L395.06 789.23 L395.38 788.50 L395.70 789.23 L396.01 791.31 L396.33 794.43 L396.64 798.10 L396.96 801.77 L397.28 804.89 L397.59 806.97 L397.91 807.70 L398.22 806.97 L398.54 804.89 L398.86 801.77 L399.17 798.10 L399.49 794.43 L399.80 791.31 L400.12 789.23 L400.44 788.50 L400.75 789.23 L401.07 791.31 L401.38 794.43 L401.70 798.10" stroke="#4a9bd8" stroke-width="1.0" fill="none" stroke-linejoin="round" />
<line x1="368.00" y1="853.20" x2="368.00" y2="881.50" stroke="#d4d4d4" stroke-width="0.8" />
<line x1="338.30" y1="853.20" x2="401.90" y2="853.20" stroke="#989898" stroke-width="0.9" />
<line x1="338.30" y1="881.50" x2="401.90" y2="881.50" stroke="#989898" stroke-width="0.9" />
<line x1="368.00" y1="853.20" x2="368.00" y2="859.20" stroke="#888" stroke-width="0.8" />
<line x1="368.00" y1="881.50" x2="368.00" y2="875.50" stroke="#888" stroke-width="0.8" />
<path d="M338.50 860.23 L338.82 862.70 L339.13 866.06 L339.45 869.80 L339.76 873.35 L340.08 876.16 L340.40 877.82 L340.71 878.07 L341.03 876.87 L341.34 874.40 L341.66 871.04 L341.98 867.30 L342.29 863.75 L342.61 860.94 L342.92 859.28 L343.24 859.03 L343.56 860.23 L343.87 862.70 L344.19 866.06 L344.50 869.80 L344.82 873.35 L345.14 876.16 L345.45 877.82 L345.77 878.07 L346.08 876.87 L346.40 874.40 L346.72 871.04 L347.03 867.30 L347.35 863.75 L347.66 860.94 L347.98 859.28 L348.30 859.03 L348.61 860.23 L348.93 862.70 L349.24 866.06 L349.56 869.80 L349.88 873.35 L350.19 876.16 L350.51 877.82 L350.82 878.07 L351.14 876.87 L351.46 874.40 L351.77 871.04 L352.09 867.30 L352.40 863.75 L352.72 860.94 L353.04 859.28 L353.35 859.03 L353.67 860.23 L353.98 862.70 L354.30 866.06 L354.62 869.80 L354.93 873.35 L355.25 876.16 L355.56 877.82 L355.88 878.07 L356.20 876.87 L356.51 874.40 L356.83 871.04 L357.14 867.30 L357.46 863.75 L357.78 860.94 L358.09 859.28 L358.41 859.03 L358.72 860.23 L359.04 862.70 L359.36 866.06 L359.67 869.80 L359.99 873.35 L360.30 876.16 L360.62 877.82 L360.94 878.07 L361.25 876.87 L361.57 874.40 L361.88 871.04 L362.20 867.30 L362.52 863.75 L362.83 860.94 L363.15 859.28 L363.46 859.03 L363.78 860.23 L364.10 862.70 L364.41 866.06 L364.73 869.80 L365.04 873.35 L365.36 876.16 L365.68 877.82 L365.99 878.07 L366.31 876.87 L366.62 874.40 L366.94 871.04 L367.26 867.30 L367.57 863.75 L367.89 860.94 L368.20 859.28 L368.52 859.03 L368.84 860.23 L369.15 862.70 L369.47 866.06 L369.78 869.80 L370.10 873.35 L370.42 876.16 L370.73 877.82 L371.05 878.07 L371.36 876.87 L371.68 874.40 L372.00 871.04 L372.31 867.30 L372.63 863.75 L372.94 860.94 L373.26 859.28 L373.58 859.03 L373.89 860.23 L374.21 862.70 L374.52 866.06 L374.84 869.80 L375.16 873.35 L375.47 876.16 L375.79 877.82 L376.10 878.07 L376.42 876.87 L376.74 874.40 L377.05 871.04 L377.37 867.30 L377.68 863.75 L378.00 860.94 L378.32 859.28 L378.63 859.03 L378.95 860.23 L379.26 862.70 L379.58 866.06 L379.90 869.80 L380.21 873.35 L380.53 876.16 L380.84 877.82 L381.16 878.07 L381.48 876.87 L381.79 874.40 L382.11 871.04 L382.42 867.30 L382.74 863.75 L383.06 860.94 L383.37 859.28 L383.69 859.03 L384.00 860.23 L384.32 862.70 L384.64 866.06 L384.95 869.80 L385.27 873.35 L385.58 876.16 L385.90 877.82 L386.22 878.07 L386.53 876.87 L386.85 874.40 L387.16 871.04 L387.48 867.30 L387.80 863.75 L388.11 860.94 L388.43 859.28 L388.74 859.03 L389.06 860.23 L389.38 862.70 L389.69 866.06 L390.01 869.80 L390.32 873.35 L390.64 876.16 L390.96 877.82 L391.27 878.07 L391.59 876.87 L391.90 874.40 L392.22 871.04 L392.54 867.30 L392.85 863.75 L393.17 860.94 L393.48 859.28 L393.80 859.03 L394.12 860.23 L394.43 862.70 L394.75 866.06 L395.06 869.80 L395.38 873.35 L395.70 876.16 L396.01 877.82 L396.33 878.07 L396.64 876.87 L396.96 874.40 L397.28 871.04 L397.59 867.30 L397.91 863.75 L398.22 860.94 L398.54 859.28 L398.86 859.03 L399.17 860.23 L399.49 862.70 L399.80 866.06 L400.12 869.80 L400.44 873.35 L400.75 876.16 L401.07 877.82 L401.38 878.07 L401.70 876.87" stroke="#4a9bd8" stroke-width="1.0" fill="none" stroke-linejoin="round" />
<line x1="368.00" y1="924.00" x2="368.00" y2="952.20" stroke="#d4d4d4" stroke-width="0.8" />
<line x1="338.30" y1="924.00" x2="401.90" y2="924.00" stroke="#989898" stroke-width="0.9" />
<line x1="338.30" y1="952.20" x2="401.90" y2="952.20" stroke="#989898" stroke-width="0.9" />
<line x1="368.00" y1="924.00" x2="368.00" y2="930.00" stroke="#888" stroke-width="0.8" />
<line x1="368.00" y1="952.20" x2="368.00" y2="946.20" stroke="#888" stroke-width="0.8" />
<path d="M338.50 947.61 L338.82 948.82 L339.13 948.57 L339.45 946.92 L339.76 944.11 L340.08 940.56 L340.40 936.82 L340.71 933.46 L341.03 930.99 L341.34 929.78 L341.66 930.03 L341.98 931.68 L342.29 934.49 L342.61 938.04 L342.92 941.78 L343.24 945.14 L343.56 947.61 L343.87 948.82 L344.19 948.57 L344.50 946.92 L344.82 944.11 L345.14 940.56 L345.45 936.82 L345.77 933.46 L346.08 930.99 L346.40 929.78 L346.72 930.03 L347.03 931.68 L347.35 934.49 L347.66 938.04 L347.98 941.78 L348.30 945.14 L348.61 947.61 L348.93 948.82 L349.24 948.57 L349.56 946.92 L349.88 944.11 L350.19 940.56 L350.51 936.82 L350.82 933.46 L351.14 930.99 L351.46 929.78 L351.77 930.03 L352.09 931.68 L352.40 934.49 L352.72 938.04 L353.04 941.78 L353.35 945.14 L353.67 947.61 L353.98 948.82 L354.30 948.57 L354.62 946.92 L354.93 944.11 L355.25 940.56 L355.56 936.82 L355.88 933.46 L356.20 930.99 L356.51 929.78 L356.83 930.03 L357.14 931.68 L357.46 934.49 L357.78 938.04 L358.09 941.78 L358.41 945.14 L358.72 947.61 L359.04 948.82 L359.36 948.57 L359.67 946.92 L359.99 944.11 L360.30 940.56 L360.62 936.82 L360.94 933.46 L361.25 930.99 L361.57 929.78 L361.88 930.03 L362.20 931.68 L362.52 934.49 L362.83 938.04 L363.15 941.78 L363.46 945.14 L363.78 947.61 L364.10 948.82 L364.41 948.57 L364.73 946.92 L365.04 944.11 L365.36 940.56 L365.68 936.82 L365.99 933.46 L366.31 930.99 L366.62 929.78 L366.94 930.03 L367.26 931.68 L367.57 934.49 L367.89 938.04 L368.20 941.78 L368.52 945.14 L368.84 947.61 L369.15 948.82 L369.47 948.57 L369.78 946.92 L370.10 944.11 L370.42 940.56 L370.73 936.82 L371.05 933.46 L371.36 930.99 L371.68 929.78 L372.00 930.03 L372.31 931.68 L372.63 934.49 L372.94 938.04 L373.26 941.78 L373.58 945.14 L373.89 947.61 L374.21 948.82 L374.52 948.57 L374.84 946.92 L375.16 944.11 L375.47 940.56 L375.79 936.82 L376.10 933.46 L376.42 930.99 L376.74 929.78 L377.05 930.03 L377.37 931.68 L377.68 934.49 L378.00 938.04 L378.32 941.78 L378.63 945.14 L378.95 947.61 L379.26 948.82 L379.58 948.57 L379.90 946.92 L380.21 944.11 L380.53 940.56 L380.84 936.82 L381.16 933.46 L381.48 930.99 L381.79 929.78 L382.11 930.03 L382.42 931.68 L382.74 934.49 L383.06 938.04 L383.37 941.78 L383.69 945.14 L384.00 947.61 L384.32 948.82 L384.64 948.57 L384.95 946.92 L385.27 944.11 L385.58 940.56 L385.90 936.82 L386.22 933.46 L386.53 930.99 L386.85 929.78 L387.16 930.03 L387.48 931.68 L387.80 934.49 L388.11 938.04 L388.43 941.78 L388.74 945.14 L389.06 947.61 L389.38 948.82 L389.69 948.57 L390.01 946.92 L390.32 944.11 L390.64 940.56 L390.96 936.82 L391.27 933.46 L391.59 930.99 L391.90 929.78 L392.22 930.03 L392.54 931.68 L392.85 934.49 L393.17 938.04 L393.48 941.78 L393.80 945.14 L394.12 947.61 L394.43 948.82 L394.75 948.57 L395.06 946.92 L395.38 944.11 L395.70 940.56 L396.01 936.82 L396.33 933.46 L396.64 930.99 L396.96 929.78 L397.28 930.03 L397.59 931.68 L397.91 934.49 L398.22 938.04 L398.54 941.78 L398.86 945.14 L399.17 947.61 L399.49 948.82 L399.80 948.57 L400.12 946.92 L400.44 944.11 L400.75 940.56 L401.07 936.82 L401.38 933.46 L401.70 930.99" stroke="#4a9bd8" stroke-width="1.0" fill="none" stroke-linejoin="round" />
<rect x="438.7" y="774.7" width="61.10000000000002" height="192.29999999999995" fill="#fff" stroke="#111" stroke-width="1.5"/>
<line x1="474.80" y1="784.40" x2="474.80" y2="812.70" stroke="#d4d4d4" stroke-width="0.8" />
<line x1="439.50" y1="784.40" x2="499.00" y2="784.40" stroke="#989898" stroke-width="0.9" />
<line x1="439.50" y1="812.70" x2="499.00" y2="812.70" stroke="#989898" stroke-width="0.9" />
<line x1="474.80" y1="784.40" x2="474.80" y2="790.40" stroke="#888" stroke-width="0.8" />
<line x1="474.80" y1="812.70" x2="474.80" y2="806.70" stroke="#888" stroke-width="0.8" />
<path d="M439.70 788.35 L440.51 789.22 L441.32 791.47 L442.13 794.75 L442.94 798.56 L443.75 802.31 L444.56 805.41 L445.37 807.39 L446.18 807.94 L446.99 806.97 L447.80 804.64 L448.61 801.31 L449.42 797.48 L450.22 793.77 L451.03 790.72 L451.84 788.83 L452.65 788.38 L453.46 789.44 L454.27 791.85 L455.08 795.23 L455.89 799.07 L456.70 802.76 L457.51 805.74 L458.32 807.54 L459.13 807.89 L459.94 806.74 L460.75 804.25 L461.56 800.82 L462.37 796.98 L463.18 793.32 L463.99 790.40 L464.80 788.69 L465.61 788.44 L466.42 789.69 L467.23 792.25 L468.04 795.72 L468.85 799.57 L469.65 803.20 L470.46 806.05 L471.27 807.67 L472.08 807.83 L472.89 806.48 L473.70 803.85 L474.51 800.33 L475.32 796.48 L476.13 792.89 L476.94 790.10 L477.75 788.57 L478.56 788.52 L479.37 789.95 L480.18 792.66 L480.99 796.21 L481.80 800.07 L482.61 803.63 L483.42 806.34 L484.23 807.78 L485.04 807.73 L485.85 806.21 L486.66 803.43 L487.47 799.84 L488.28 795.98 L489.08 792.47 L489.89 789.83 L490.70 788.48 L491.51 788.62 L492.32 790.24 L493.13 793.08 L493.94 796.71 L494.75 800.56 L495.56 804.04 L496.37 806.60 L497.18 807.86 L497.99 807.62 L498.80 805.91" stroke="#4a9bd8" stroke-width="1.0" fill="none" stroke-linejoin="round" />
<line x1="474.80" y1="854.60" x2="474.80" y2="882.90" stroke="#d4d4d4" stroke-width="0.8" />
<line x1="439.50" y1="854.60" x2="499.00" y2="854.60" stroke="#989898" stroke-width="0.9" />
<line x1="439.50" y1="882.90" x2="499.00" y2="882.90" stroke="#989898" stroke-width="0.9" />
<line x1="474.80" y1="854.60" x2="474.80" y2="860.60" stroke="#888" stroke-width="0.8" />
<line x1="474.80" y1="882.90" x2="474.80" y2="876.90" stroke="#888" stroke-width="0.8" />
<path d="M439.70 873.49 L440.51 876.31 L441.32 877.90 L442.13 878.01 L442.94 876.63 L443.75 873.96 L444.56 870.43 L445.37 866.57 L446.18 862.99 L446.99 860.24 L447.80 858.75 L448.61 858.74 L449.42 860.21 L450.22 862.95 L451.03 866.52 L451.84 870.37 L452.65 873.92 L453.46 876.60 L454.27 878.00 L455.08 877.91 L455.89 876.34 L456.70 873.54 L457.51 869.93 L458.32 866.08 L459.13 862.58 L459.94 859.97 L460.75 858.66 L461.56 858.85 L462.37 860.51 L463.18 863.38 L463.99 867.02 L464.80 870.87 L465.61 874.33 L466.42 876.86 L467.23 878.08 L468.04 877.79 L468.85 876.04 L469.65 873.10 L470.46 869.43 L471.27 865.59 L472.08 862.18 L472.89 859.72 L473.70 858.60 L474.51 858.98 L475.32 860.82 L476.13 863.82 L476.94 867.52 L477.75 871.35 L478.56 874.72 L479.37 877.10 L480.18 878.12 L480.99 877.64 L481.80 875.72 L482.61 872.65 L483.42 868.92 L484.23 865.11 L485.04 861.79 L485.85 859.49 L486.66 858.56 L487.47 859.14 L488.28 861.15 L489.08 864.28 L489.89 868.03 L490.70 871.83 L491.51 875.09 L492.32 877.31 L493.13 878.15 L493.94 877.47 L494.75 875.37 L495.56 872.19 L496.37 868.42 L497.18 864.63 L497.99 861.42 L498.80 859.29" stroke="#4a9bd8" stroke-width="1.0" fill="none" stroke-linejoin="round" />
<line x1="474.80" y1="925.30" x2="474.80" y2="953.60" stroke="#d4d4d4" stroke-width="0.8" />
<line x1="439.50" y1="925.30" x2="499.00" y2="925.30" stroke="#989898" stroke-width="0.9" />
<line x1="439.50" y1="953.60" x2="499.00" y2="953.60" stroke="#989898" stroke-width="0.9" />
<line x1="474.80" y1="925.30" x2="474.80" y2="931.30" stroke="#888" stroke-width="0.8" />
<line x1="474.80" y1="953.60" x2="474.80" y2="947.60" stroke="#888" stroke-width="0.8" />
<path d="M439.70 943.71 L440.51 940.02 L441.32 936.19 L442.13 932.79 L442.94 930.37 L443.75 929.29 L444.56 929.72 L445.37 931.59 L446.18 934.62 L446.99 938.33 L447.80 942.16 L448.61 945.50 L449.42 947.85 L450.22 948.83 L451.03 948.30 L451.84 946.34 L452.65 943.26 L453.46 939.52 L454.27 935.71 L455.08 932.41 L455.89 930.14 L456.70 929.26 L457.51 929.88 L458.32 931.93 L459.13 935.07 L459.94 938.84 L460.75 942.63 L461.56 945.87 L462.37 948.06 L463.18 948.85 L463.99 948.13 L464.80 946.00 L465.61 942.79 L466.42 939.01 L467.23 935.23 L468.04 932.05 L468.85 929.95 L469.65 929.25 L470.46 930.07 L471.27 932.28 L472.08 935.54 L472.89 939.34 L473.70 943.10 L474.51 946.23 L475.32 948.25 L476.13 948.84 L476.94 947.92 L477.75 945.63 L478.56 942.32 L479.37 938.50 L480.18 934.77 L480.99 931.70 L481.80 929.77 L482.61 929.27 L483.42 930.29 L484.23 932.66 L485.04 936.02 L485.85 939.85 L486.66 943.55 L487.47 946.56 L488.28 948.41 L489.08 948.81 L489.89 947.70 L490.70 945.25 L491.51 941.84 L492.32 938.00 L493.13 934.32 L493.94 931.38 L494.75 929.62 L495.56 929.32 L496.37 930.53 L497.18 933.05 L497.99 936.50 L498.80 940.35" stroke="#4a9bd8" stroke-width="1.0" fill="none" stroke-linejoin="round" />
<rect x="572.6" y="773.7" width="61.89999999999998" height="192.19999999999993" fill="#fff" stroke="#111" stroke-width="1.5"/>
<line x1="599.50" y1="783.00" x2="599.50" y2="810.60" stroke="#d4d4d4" stroke-width="0.8" />
<line x1="573.40" y1="783.00" x2="633.70" y2="783.00" stroke="#989898" stroke-width="0.9" />
<line x1="573.40" y1="810.60" x2="633.70" y2="810.60" stroke="#989898" stroke-width="0.9" />
<line x1="599.50" y1="783.00" x2="599.50" y2="789.00" stroke="#888" stroke-width="0.8" />
<line x1="599.50" y1="810.60" x2="599.50" y2="804.60" stroke="#888" stroke-width="0.8" />
<path d="M573.60 797.30 L573.94 793.55 L574.28 790.37 L574.62 788.25 L574.96 787.50 L575.30 788.25 L575.64 790.37 L575.98 793.55 L576.32 797.30 L576.66 801.05 L577.00 804.23 L577.34 806.35 L577.68 807.10 L578.02 806.35 L578.36 804.23 L578.71 801.05 L579.05 797.30 L579.39 793.55 L579.73 790.37 L580.07 788.25 L580.41 787.50 L580.75 788.25 L581.09 790.37 L581.43 793.55 L581.77 797.30 L582.11 801.05 L582.45 804.23 L582.79 806.35 L583.13 807.10 L583.47 806.35 L583.81 804.23 L584.15 801.05 L584.49 797.30 L584.83 793.55 L585.17 790.37 L585.51 788.25 L585.85 787.50 L586.19 788.25 L586.53 790.37 L586.87 793.55 L587.21 797.30 L587.55 801.05 L587.89 804.23 L588.23 806.35 L588.58 807.10 L588.92 806.35 L589.26 804.23 L589.60 801.05 L589.94 797.30 L590.28 793.55 L590.62 790.37 L590.96 788.25 L591.30 787.50 L591.64 788.25 L591.98 790.37 L592.32 793.55 L592.66 797.30 L593.00 801.05 L593.34 804.23 L593.68 806.35 L594.02 807.10 L594.36 806.35 L594.70 804.23 L595.04 801.05 L595.38 797.30 L595.72 793.55 L596.06 790.37 L596.40 788.25 L596.74 787.50 L597.08 788.25 L597.42 790.37 L597.76 793.55 L598.10 797.30 L598.44 801.05 L598.79 804.23 L599.13 806.35 L599.47 807.10 L599.81 806.35 L600.15 804.23 L600.49 801.05 L600.83 797.30 L601.17 793.55 L601.51 790.37 L601.85 788.25 L602.19 787.50 L602.53 788.25 L602.87 790.37 L603.21 793.55 L603.55 797.30 L603.89 801.05 L604.23 804.23 L604.57 806.35 L604.91 807.10 L605.25 806.35 L605.59 804.23 L605.93 801.05 L606.27 797.30 L606.61 793.55 L606.95 790.37 L607.29 788.25 L607.63 787.50 L607.97 788.25 L608.31 790.37 L608.66 793.55 L609.00 797.30 L609.34 801.05 L609.68 804.23 L610.02 806.35 L610.36 807.10 L610.70 806.35 L611.04 804.23 L611.38 801.05 L611.72 797.30 L612.06 793.55 L612.40 790.37 L612.74 788.25 L613.08 787.50 L613.42 788.25 L613.76 790.37 L614.10 793.55 L614.44 797.30 L614.78 801.05 L615.12 804.23 L615.46 806.35 L615.80 807.10 L616.14 806.35 L616.48 804.23 L616.82 801.05 L617.16 797.30 L617.50 793.55 L617.84 790.37 L618.18 788.25 L618.52 787.50 L618.87 788.25 L619.21 790.37 L619.55 793.55 L619.89 797.30 L620.23 801.05 L620.57 804.23 L620.91 806.35 L621.25 807.10 L621.59 806.35 L621.93 804.23 L622.27 801.05 L622.61 797.30 L622.95 793.55 L623.29 790.37 L623.63 788.25 L623.97 787.50 L624.31 788.25 L624.65 790.37 L624.99 793.55 L625.33 797.30 L625.67 801.05 L626.01 804.23 L626.35 806.35 L626.69 807.10 L627.03 806.35 L627.37 804.23 L627.71 801.05 L628.05 797.30 L628.39 793.55 L628.74 790.37 L629.08 788.25 L629.42 787.50 L629.76 788.25 L630.10 790.37 L630.44 793.55 L630.78 797.30 L631.12 801.05 L631.46 804.23 L631.80 806.35 L632.14 807.10 L632.48 806.35 L632.82 804.23 L633.16 801.05 L633.50 797.30" stroke="#4a9bd8" stroke-width="1.0" fill="none" stroke-linejoin="round" />
<line x1="599.50" y1="852.40" x2="599.50" y2="881.20" stroke="#d4d4d4" stroke-width="0.8" />
<line x1="573.40" y1="852.40" x2="633.70" y2="852.40" stroke="#989898" stroke-width="0.9" />
<line x1="573.40" y1="881.20" x2="633.70" y2="881.20" stroke="#989898" stroke-width="0.9" />
<line x1="599.50" y1="852.40" x2="599.50" y2="858.40" stroke="#888" stroke-width="0.8" />
<line x1="599.50" y1="881.20" x2="599.50" y2="875.20" stroke="#888" stroke-width="0.8" />
<path d="M573.60 858.81 L573.94 861.33 L574.28 864.76 L574.62 868.58 L574.96 872.20 L575.30 875.07 L575.64 876.77 L575.98 877.02 L576.32 875.79 L576.66 873.27 L577.00 869.84 L577.34 866.02 L577.68 862.40 L578.02 859.53 L578.36 857.83 L578.71 857.58 L579.05 858.81 L579.39 861.33 L579.73 864.76 L580.07 868.58 L580.41 872.20 L580.75 875.07 L581.09 876.77 L581.43 877.02 L581.77 875.79 L582.11 873.27 L582.45 869.84 L582.79 866.02 L583.13 862.40 L583.47 859.53 L583.81 857.83 L584.15 857.58 L584.49 858.81 L584.83 861.33 L585.17 864.76 L585.51 868.58 L585.85 872.20 L586.19 875.07 L586.53 876.77 L586.87 877.02 L587.21 875.79 L587.55 873.27 L587.89 869.84 L588.23 866.02 L588.58 862.40 L588.92 859.53 L589.26 857.83 L589.60 857.58 L589.94 858.81 L590.28 861.33 L590.62 864.76 L590.96 868.58 L591.30 872.20 L591.64 875.07 L591.98 876.77 L592.32 877.02 L592.66 875.79 L593.00 873.27 L593.34 869.84 L593.68 866.02 L594.02 862.40 L594.36 859.53 L594.70 857.83 L595.04 857.58 L595.38 858.81 L595.72 861.33 L596.06 864.76 L596.40 868.58 L596.74 872.20 L597.08 875.07 L597.42 876.77 L597.76 877.02 L598.10 875.79 L598.44 873.27 L598.79 869.84 L599.13 866.02 L599.47 862.40 L599.81 859.53 L600.15 857.83 L600.49 857.58 L600.83 858.81 L601.17 861.33 L601.51 864.76 L601.85 868.58 L602.19 872.20 L602.53 875.07 L602.87 876.77 L603.21 877.02 L603.55 875.79 L603.89 873.27 L604.23 869.84 L604.57 866.02 L604.91 862.40 L605.25 859.53 L605.59 857.83 L605.93 857.58 L606.27 858.81 L606.61 861.33 L606.95 864.76 L607.29 868.58 L607.63 872.20 L607.97 875.07 L608.31 876.77 L608.66 877.02 L609.00 875.79 L609.34 873.27 L609.68 869.84 L610.02 866.02 L610.36 862.40 L610.70 859.53 L611.04 857.83 L611.38 857.58 L611.72 858.81 L612.06 861.33 L612.40 864.76 L612.74 868.58 L613.08 872.20 L613.42 875.07 L613.76 876.77 L614.10 877.02 L614.44 875.79 L614.78 873.27 L615.12 869.84 L615.46 866.02 L615.80 862.40 L616.14 859.53 L616.48 857.83 L616.82 857.58 L617.16 858.81 L617.50 861.33 L617.84 864.76 L618.18 868.58 L618.52 872.20 L618.87 875.07 L619.21 876.77 L619.55 877.02 L619.89 875.79 L620.23 873.27 L620.57 869.84 L620.91 866.02 L621.25 862.40 L621.59 859.53 L621.93 857.83 L622.27 857.58 L622.61 858.81 L622.95 861.33 L623.29 864.76 L623.63 868.58 L623.97 872.20 L624.31 875.07 L624.65 876.77 L624.99 877.02 L625.33 875.79 L625.67 873.27 L626.01 869.84 L626.35 866.02 L626.69 862.40 L627.03 859.53 L627.37 857.83 L627.71 857.58 L628.05 858.81 L628.39 861.33 L628.74 864.76 L629.08 868.58 L629.42 872.20 L629.76 875.07 L630.10 876.77 L630.44 877.02 L630.78 875.79 L631.12 873.27 L631.46 869.84 L631.80 866.02 L632.14 862.40 L632.48 859.53 L632.82 857.83 L633.16 857.58 L633.50 858.81" stroke="#4a9bd8" stroke-width="1.0" fill="none" stroke-linejoin="round" />
<line x1="599.50" y1="923.00" x2="599.50" y2="951.70" stroke="#d4d4d4" stroke-width="0.8" />
<line x1="573.40" y1="923.00" x2="633.70" y2="923.00" stroke="#989898" stroke-width="0.9" />
<line x1="573.40" y1="951.70" x2="633.70" y2="951.70" stroke="#989898" stroke-width="0.9" />
<line x1="599.50" y1="923.00" x2="599.50" y2="929.00" stroke="#888" stroke-width="0.8" />
<line x1="599.50" y1="951.70" x2="599.50" y2="945.70" stroke="#888" stroke-width="0.8" />
<path d="M573.60 946.33 L573.94 947.57 L574.28 947.32 L574.62 945.63 L574.96 942.76 L575.30 939.14 L575.64 935.32 L575.98 931.89 L576.32 929.37 L576.66 928.13 L577.00 928.38 L577.34 930.07 L577.68 932.94 L578.02 936.56 L578.36 940.38 L578.71 943.81 L579.05 946.33 L579.39 947.57 L579.73 947.32 L580.07 945.63 L580.41 942.76 L580.75 939.14 L581.09 935.32 L581.43 931.89 L581.77 929.37 L582.11 928.13 L582.45 928.38 L582.79 930.07 L583.13 932.94 L583.47 936.56 L583.81 940.38 L584.15 943.81 L584.49 946.33 L584.83 947.57 L585.17 947.32 L585.51 945.63 L585.85 942.76 L586.19 939.14 L586.53 935.32 L586.87 931.89 L587.21 929.37 L587.55 928.13 L587.89 928.38 L588.23 930.07 L588.58 932.94 L588.92 936.56 L589.26 940.38 L589.60 943.81 L589.94 946.33 L590.28 947.57 L590.62 947.32 L590.96 945.63 L591.30 942.76 L591.64 939.14 L591.98 935.32 L592.32 931.89 L592.66 929.37 L593.00 928.13 L593.34 928.38 L593.68 930.07 L594.02 932.94 L594.36 936.56 L594.70 940.38 L595.04 943.81 L595.38 946.33 L595.72 947.57 L596.06 947.32 L596.40 945.63 L596.74 942.76 L597.08 939.14 L597.42 935.32 L597.76 931.89 L598.10 929.37 L598.44 928.13 L598.79 928.38 L599.13 930.07 L599.47 932.94 L599.81 936.56 L600.15 940.38 L600.49 943.81 L600.83 946.33 L601.17 947.57 L601.51 947.32 L601.85 945.63 L602.19 942.76 L602.53 939.14 L602.87 935.32 L603.21 931.89 L603.55 929.37 L603.89 928.13 L604.23 928.38 L604.57 930.07 L604.91 932.94 L605.25 936.56 L605.59 940.38 L605.93 943.81 L606.27 946.33 L606.61 947.57 L606.95 947.32 L607.29 945.63 L607.63 942.76 L607.97 939.14 L608.31 935.32 L608.66 931.89 L609.00 929.37 L609.34 928.13 L609.68 928.38 L610.02 930.07 L610.36 932.94 L610.70 936.56 L611.04 940.38 L611.38 943.81 L611.72 946.33 L612.06 947.57 L612.40 947.32 L612.74 945.63 L613.08 942.76 L613.42 939.14 L613.76 935.32 L614.10 931.89 L614.44 929.37 L614.78 928.13 L615.12 928.38 L615.46 930.07 L615.80 932.94 L616.14 936.56 L616.48 940.38 L616.82 943.81 L617.16 946.33 L617.50 947.57 L617.84 947.32 L618.18 945.63 L618.52 942.76 L618.87 939.14 L619.21 935.32 L619.55 931.89 L619.89 929.37 L620.23 928.13 L620.57 928.38 L620.91 930.07 L621.25 932.94 L621.59 936.56 L621.93 940.38 L622.27 943.81 L622.61 946.33 L622.95 947.57 L623.29 947.32 L623.63 945.63 L623.97 942.76 L624.31 939.14 L624.65 935.32 L624.99 931.89 L625.33 929.37 L625.67 928.13 L626.01 928.38 L626.35 930.07 L626.69 932.94 L627.03 936.56 L627.37 940.38 L627.71 943.81 L628.05 946.33 L628.39 947.57 L628.74 947.32 L629.08 945.63 L629.42 942.76 L629.76 939.14 L630.10 935.32 L630.44 931.89 L630.78 929.37 L631.12 928.13 L631.46 928.38 L631.80 930.07 L632.14 932.94 L632.48 936.56 L632.82 940.38 L633.16 943.81 L633.50 946.33" stroke="#4a9bd8" stroke-width="1.0" fill="none" stroke-linejoin="round" />
<rect x="521.2" y="61.2" width="160.0" height="58.599999999999994" fill="#fff" stroke="#5e5e5e" stroke-width="1.3"/>
<line x1="529.50" y1="77.30" x2="579.50" y2="77.30" stroke="#0072bd" stroke-width="2.7" />
<line x1="529.50" y1="104.00" x2="579.50" y2="104.00" stroke="#fc0c0c" stroke-width="2.8" />
</svg>
<div class="t" style="color:#000;transform:matrix(1.0781,0,0,1.2447,137.537,3.713);font-weight:bold;">sinusoidal reference trajectory and system output</div>
<div class="t" style="color:#1c1c1c;transform:matrix(0.9714,0,0,1.0704,57.146,35.489);">1000</div>
<div class="t" style="color:#1c1c1c;transform:matrix(0.9748,0,0,1.0352,67.720,52.494);">500</div>
<div class="t" style="color:#1c1c1c;transform:matrix(0.9271,0,0,1.0352,89.858,70.094);">0</div>
<div class="t" style="color:#1c1c1c;transform:matrix(1.0312,0,0,1.1197,102.875,90.541);">0</div>
<div class="t" style="color:#1c1c1c;transform:matrix(0.9697,0,0,1.1197,210.848,90.541);">10</div>
<div class="t" style="color:#1c1c1c;transform:matrix(1.0098,0,0,1.1197,325.090,90.541);">20</div>
<div class="t" style="color:#1c1c1c;transform:matrix(0.9660,0,0,1.1197,439.527,90.541);">30</div>
<div class="t" style="color:#1c1c1c;transform:matrix(0,-1.2282,1.0725,0,1.668,82.565);">RPM</div>
<div class="t" style="color:#1c1c1c;transform:matrix(0,-1.2286,1.1117,0,29.332,90.874);">(tr/min)</div>
<div class="t" style="color:#000;transform:matrix(1.0785,0,0,1.2021,172.237,121.215);font-weight:bold;">error between reference and system output</div>
<div class="t" style="color:#1c1c1c;transform:matrix(0.9714,0,0,1.0704,57.146,144.589);">1000</div>
<div class="t" style="color:#1c1c1c;transform:matrix(0.9748,0,0,1.0563,67.720,163.831);">500</div>
<div class="t" style="color:#1c1c1c;transform:matrix(0.9271,0,0,1.0563,89.858,182.831);">0</div>
<div class="t" style="color:#1c1c1c;transform:matrix(1.0312,0,0,1.1338,102.875,207.199);">0</div>
<div class="t" style="color:#1c1c1c;transform:matrix(0.9697,0,0,1.1338,210.848,207.199);">10</div>
<div class="t" style="color:#1c1c1c;transform:matrix(1.0098,0,0,1.1338,325.090,207.199);">20</div>
<div class="t" style="color:#1c1c1c;transform:matrix(0.9660,0,0,1.1338,439.527,207.199);">30</div>
<div class="t" style="color:#1c1c1c;transform:matrix(0.9810,0,0,1.1338,553.608,207.199);">40</div>
<div class="t" style="color:#1c1c1c;transform:matrix(0,-1.2718,1.0725,0,1.668,204.035);">RPM</div>
<div class="t" style="color:#1c1c1c;transform:matrix(0,-1.2138,1.0851,0,29.396,211.357);">(tr/min)</div>
<div class="t" style="color:#000;transform:matrix(1.0612,0,0,1.1915,299.851,238.340);font-weight:bold;">Computing time(s)</div>
<div class="t" style="color:#1c1c1c;transform:matrix(0.9608,0,0,1.0662,89.516,271.388);">4</div>
<div class="t" style="color:#1c1c1c;transform:matrix(0.9674,0,0,1.0000,89.533,291.100);">2</div>
<div class="t" style="color:#1c1c1c;transform:matrix(1.0312,0,0,1.1408,102.875,323.877);">0</div>
<div class="t" style="color:#1c1c1c;transform:matrix(0.9697,0,0,1.1408,210.848,323.877);">10</div>
<div class="t" style="color:#1c1c1c;transform:matrix(1.0098,0,0,1.1408,325.090,323.877);">20</div>
<div class="t" style="color:#1c1c1c;transform:matrix(0.9660,0,0,1.1408,439.527,323.877);">30</div>
<div class="t" style="color:#1c1c1c;transform:matrix(0.9810,0,0,1.1408,553.608,323.877);">40</div>
<div class="t" style="color:#1c1c1c;transform:matrix(0,-1.2044,1.0691,0,-0.566,348.604);">Computing</div>
<div class="t" style="color:#1c1c1c;transform:matrix(0,-1.2374,1.0691,0,27.534,323.795);">time(s)</div>
<div class="t" style="color:#1c1c1c;transform:matrix(1.1250,0,0,1.1705,108.625,244.777);">×</div>
<div class="t" style="color:#1c1c1c;transform:matrix(0.9949,0,0,1.0493,123.708,244.052);">10</div>
<div class="t" style="color:#1c1c1c;transform:matrix(0.6188,0,0,0.8028,146.505,238.692);">-3</div>
<div class="t" style="color:#000;transform:matrix(1.0769,0,0,1.2234,298.169,355.664);font-weight:bold;">first phase voltage</div>
<div class="t" style="color:#1c1c1c;transform:matrix(0.9810,0,0,1.0493,67.519,379.952);">200</div>
<div class="t" style="color:#1c1c1c;transform:matrix(0.9271,0,0,1.0352,89.858,397.494);">0</div>
<div class="t" style="color:#1c1c1c;transform:matrix(0.9505,0,0,1.0493,60.640,415.052);">-200</div>
<div class="t" style="color:#1c1c1c;transform:matrix(1.0312,0,0,1.1268,102.875,441.920);">0</div>
<div class="t" style="color:#1c1c1c;transform:matrix(0.9697,0,0,1.1268,210.848,441.920);">10</div>
<div class="t" style="color:#1c1c1c;transform:matrix(1.0098,0,0,1.1268,325.090,441.920);">20</div>
<div class="t" style="color:#1c1c1c;transform:matrix(0.9660,0,0,1.1268,439.527,441.920);">30</div>
<div class="t" style="color:#1c1c1c;transform:matrix(0.9810,0,0,1.1268,553.608,441.920);">40</div>
<div class="t" style="color:#1c1c1c;transform:matrix(0,-1.2352,1.1170,0,18.319,436.376);">U (V)</div>
<div class="t" style="color:#000;transform:matrix(1.0771,0,0,1.2340,281.138,473.138);font-weight:bold;">second phase voltage</div>
<div class="t" style="color:#1c1c1c;transform:matrix(0.9810,0,0,1.0704,67.519,495.889);">200</div>
<div class="t" style="color:#1c1c1c;transform:matrix(0.9271,0,0,1.0352,89.858,514.994);">0</div>
<div class="t" style="color:#1c1c1c;transform:matrix(0.9505,0,0,1.0493,60.640,532.052);">-200</div>
<div class="t" style="color:#1c1c1c;transform:matrix(1.0312,0,0,1.1197,102.875,559.441);">0</div>
<div class="t" style="color:#1c1c1c;transform:matrix(0.9697,0,0,1.1197,210.848,559.441);">10</div>
<div class="t" style="color:#1c1c1c;transform:matrix(1.0098,0,0,1.1197,325.090,559.441);">20</div>
<div class="t" style="color:#1c1c1c;transform:matrix(0.9660,0,0,1.1197,439.527,559.441);">30</div>
<div class="t" style="color:#1c1c1c;transform:matrix(0.9810,0,0,1.1197,553.608,559.441);">40</div>
<div class="t" style="color:#1c1c1c;transform:matrix(0,-1.2172,1.1011,0,17.357,553.143);">V (V)</div>
<div class="t" style="color:#000;transform:matrix(1.0806,0,0,1.2128,294.884,590.189);font-weight:bold;">third phase voltage</div>
<div class="t" style="color:#1c1c1c;transform:matrix(0.9810,0,0,1.0493,67.519,613.952);">200</div>
<div class="t" style="color:#1c1c1c;transform:matrix(0.9271,0,0,1.0211,89.858,632.037);">0</div>
<div class="t" style="color:#1c1c1c;transform:matrix(0.9505,0,0,1.0493,60.640,649.052);">-200</div>
<div class="t" style="color:#1c1c1c;transform:matrix(1.0312,0,0,1.1268,102.875,676.420);">0</div>
<div class="t" style="color:#1c1c1c;transform:matrix(0.9697,0,0,1.1268,210.848,676.420);">10</div>
<div class="t" style="color:#1c1c1c;transform:matrix(1.0098,0,0,1.1268,325.090,676.420);">20</div>
<div class="t" style="color:#1c1c1c;transform:matrix(0.9660,0,0,1.1268,439.527,676.420);">30</div>
<div class="t" style="color:#1c1c1c;transform:matrix(0.9810,0,0,1.1268,553.608,676.420);">40</div>
<div class="t" style="color:#1c1c1c;transform:matrix(0,-1.2218,1.1011,0,17.357,672.444);">W (V)</div>
<div class="t" style="color:#1c1c1c;transform:matrix(1.0247,0,0,1.0743,362.190,708.822);">time</div>
<div class="t" style="color:#1c1c1c;transform:matrix(1.1106,0,0,1.1436,401.267,708.155);">(s)</div>
<div class="t" style="color:#000;transform:matrix(1.2433,0,0,1.2286,388.654,738.069);font-weight:bold;">Zoom</div>
<div class="t" style="color:#555;transform:matrix(0.4040,0,0,0.3803,218.954,815.259);">13</div>
<div class="t" style="color:#555;transform:matrix(0.4040,0,0,0.3803,218.954,885.359);">13</div>
<div class="t" style="color:#555;transform:matrix(0.4040,0,0,0.3803,218.954,955.859);">13</div>
<div class="t" style="color:#555;transform:matrix(0.3922,0,0,0.3803,363.608,816.659);">28</div>
<div class="t" style="color:#555;transform:matrix(0.3922,0,0,0.3803,363.608,887.359);">28</div>
<div class="t" style="color:#555;transform:matrix(0.3922,0,0,0.3803,363.608,957.559);">28</div>
<div class="t" style="color:#555;transform:matrix(0.3883,0,0,0.3803,470.489,818.859);">38</div>
<div class="t" style="color:#555;transform:matrix(0.3883,0,0,0.3803,470.489,889.359);">38</div>
<div class="t" style="color:#555;transform:matrix(0.3883,0,0,0.3803,470.489,958.659);">38</div>
<div class="t" style="color:#555;transform:matrix(0.3883,0,0,0.3803,595.189,816.759);">50</div>
<div class="t" style="color:#555;transform:matrix(0.3883,0,0,0.3803,595.189,886.959);">50</div>
<div class="t" style="color:#555;transform:matrix(0.3883,0,0,0.3803,595.189,956.359);">50</div>
<div class="t" style="color:#000;transform:matrix(0,-0.8333,1.0798,0,128.009,807.533);">U (V)</div>
<div class="t" style="color:#000;transform:matrix(0,-0.8371,1.0798,0,127.009,885.967);">V (V)</div>
<div class="t" style="color:#000;transform:matrix(0,-0.8347,1.0798,0,127.009,966.267);">W (V)</div>
<div class="t" style="color:#1c1c1c;transform:matrix(0.8467,0,0,0.9324,582.615,69.362);">reference</div>
<div class="t" style="color:#1c1c1c;transform:matrix(0.8496,0,0,0.8989,582.611,96.343);">motor speed</div>
</body></html>
